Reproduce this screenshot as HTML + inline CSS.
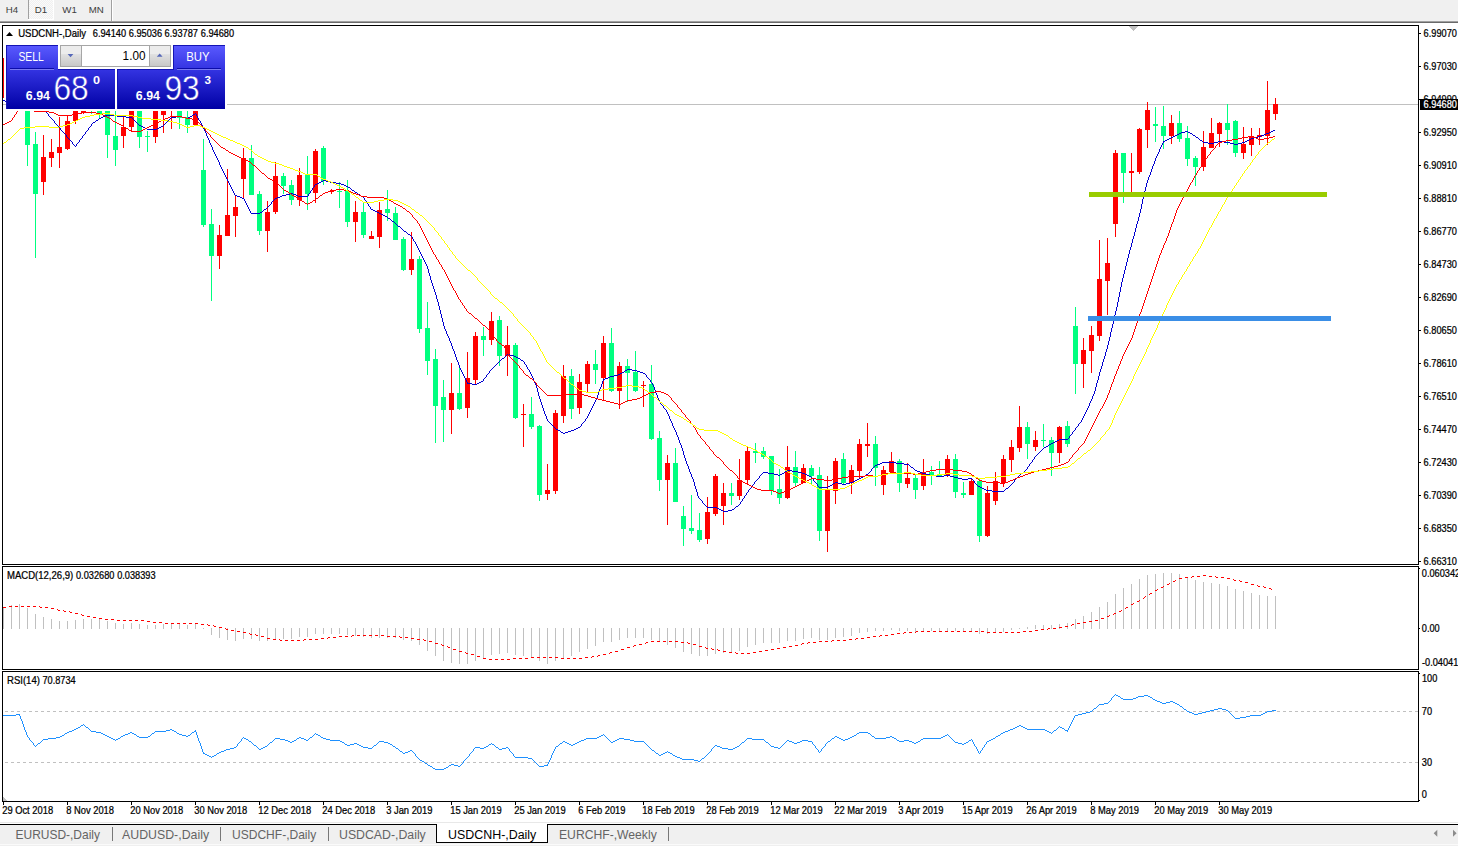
<!DOCTYPE html><html><head><meta charset="utf-8"><title>USDCNH-,Daily</title><style>
html,body{margin:0;padding:0;background:#fff;}
body{width:1458px;height:846px;overflow:hidden;position:relative;font-family:"Liberation Sans",sans-serif;}
svg{position:absolute;left:0;top:0;}
text{font-family:"Liberation Sans",sans-serif;}
.ax{font-size:10.4px;fill:#000;stroke:#000;stroke-width:0.25px;}
.tab{font-size:12.3px;fill:#646464;}
.tb{font-size:9.6px;fill:#3c3c3c;}

</style></head><body>
<svg width="1458" height="846" viewBox="0 0 1458 846" shape-rendering="crispEdges">
<defs><linearGradient id="bl" gradientUnits="userSpaceOnUse" x1="0" y1="45" x2="0" y2="109"><stop offset="0" stop-color="#5a5aff"/><stop offset="0.4" stop-color="#3232e0"/><stop offset="1" stop-color="#0000a4"/></linearGradient><linearGradient id="bl2" gradientUnits="userSpaceOnUse" x1="0" y1="-55.3" x2="0" y2="8.7"><stop offset="0" stop-color="#5a5aff"/><stop offset="0.4" stop-color="#3232e0"/><stop offset="1" stop-color="#0000a4"/></linearGradient><linearGradient id="gb" x1="0" y1="0" x2="0" y2="1"><stop offset="0" stop-color="#f2f2f2"/><stop offset="1" stop-color="#c8c8c8"/></linearGradient><pattern id="dots" width="2" height="2" patternUnits="userSpaceOnUse"><rect width="2" height="2" fill="#f0f0f0"/><rect width="1" height="1" fill="#fafafa"/><rect x="1" y="1" width="1" height="1" fill="#fafafa"/></pattern><clipPath id="cm"><rect x="3" y="26" width="1415" height="538"/></clipPath></defs>
<rect x="0" y="0" width="1458" height="21" fill="#f0f0f0"/>
<rect x="0" y="21" width="1458" height="1" fill="#a0a0a0"/><rect x="0" y="22" width="1458" height="1" fill="#696969"/>
<rect x="29" y="0" width="24" height="19" fill="url(#dots)"/><rect x="53" y="0" width="1" height="20" fill="#fff"/><rect x="28" y="19" width="26" height="1" fill="#fff"/>
<rect x="28" y="0" width="1" height="19" fill="#a0a0a0"/><rect x="111" y="0" width="1" height="21" fill="#a0a0a0"/><rect x="112" y="0" width="1" height="21" fill="#fff"/>
<text transform="translate(5.7 12.9) scale(1.01 1)" class="tb" shape-rendering="auto" xml:space="preserve">H4</text>
<text transform="translate(34.7 12.9) scale(1.01 1)" class="tb" shape-rendering="auto" xml:space="preserve">D1</text>
<text transform="translate(62.3 12.9) scale(1.01 1)" class="tb" shape-rendering="auto" xml:space="preserve">W1</text>
<text transform="translate(88.8 12.9) scale(1.01 1)" class="tb" shape-rendering="auto" xml:space="preserve">MN</text>
<rect x="2" y="25" width="1417" height="1" fill="#000"/>
<rect x="2" y="25" width="1" height="777" fill="#000"/>
<rect x="1418" y="25" width="1" height="777" fill="#000"/>
<rect x="2" y="564" width="1417" height="1" fill="#000"/>
<rect x="2" y="566" width="1417" height="1" fill="#000"/>
<rect x="2" y="565" width="1417" height="1" fill="#fff"/>
<rect x="2" y="669" width="1417" height="1" fill="#000"/>
<rect x="2" y="670" width="1417" height="1" fill="#fff"/>
<rect x="2" y="671" width="1417" height="1" fill="#000"/>
<rect x="2" y="801" width="1417" height="1" fill="#000"/>
<rect x="1419" y="33" width="2" height="1" fill="#000"/>
<text transform="translate(1423.6 37) scale(0.8857692307692308 1)" class="ax" shape-rendering="auto" xml:space="preserve">6.99070</text>
<rect x="1419" y="66" width="2" height="1" fill="#000"/>
<text transform="translate(1423.6 70) scale(0.8857692307692308 1)" class="ax" shape-rendering="auto" xml:space="preserve">6.97030</text>
<rect x="1419" y="99" width="2" height="1" fill="#000"/>
<text transform="translate(1423.6 103) scale(0.8857692307692308 1)" class="ax" shape-rendering="auto" xml:space="preserve">6.94990</text>
<rect x="1419" y="132" width="2" height="1" fill="#000"/>
<text transform="translate(1423.6 136) scale(0.8857692307692308 1)" class="ax" shape-rendering="auto" xml:space="preserve">6.92950</text>
<rect x="1419" y="165" width="2" height="1" fill="#000"/>
<text transform="translate(1423.6 169) scale(0.8857692307692308 1)" class="ax" shape-rendering="auto" xml:space="preserve">6.90910</text>
<rect x="1419" y="198" width="2" height="1" fill="#000"/>
<text transform="translate(1423.6 202) scale(0.8857692307692308 1)" class="ax" shape-rendering="auto" xml:space="preserve">6.88810</text>
<rect x="1419" y="231" width="2" height="1" fill="#000"/>
<text transform="translate(1423.6 235) scale(0.8857692307692308 1)" class="ax" shape-rendering="auto" xml:space="preserve">6.86770</text>
<rect x="1419" y="264" width="2" height="1" fill="#000"/>
<text transform="translate(1423.6 268) scale(0.8857692307692308 1)" class="ax" shape-rendering="auto" xml:space="preserve">6.84730</text>
<rect x="1419" y="297" width="2" height="1" fill="#000"/>
<text transform="translate(1423.6 301) scale(0.8857692307692308 1)" class="ax" shape-rendering="auto" xml:space="preserve">6.82690</text>
<rect x="1419" y="330" width="2" height="1" fill="#000"/>
<text transform="translate(1423.6 334) scale(0.8857692307692308 1)" class="ax" shape-rendering="auto" xml:space="preserve">6.80650</text>
<rect x="1419" y="363" width="2" height="1" fill="#000"/>
<text transform="translate(1423.6 367) scale(0.8857692307692308 1)" class="ax" shape-rendering="auto" xml:space="preserve">6.78610</text>
<rect x="1419" y="396" width="2" height="1" fill="#000"/>
<text transform="translate(1423.6 400) scale(0.8857692307692308 1)" class="ax" shape-rendering="auto" xml:space="preserve">6.76510</text>
<rect x="1419" y="429" width="2" height="1" fill="#000"/>
<text transform="translate(1423.6 433) scale(0.8857692307692308 1)" class="ax" shape-rendering="auto" xml:space="preserve">6.74470</text>
<rect x="1419" y="462" width="2" height="1" fill="#000"/>
<text transform="translate(1423.6 466) scale(0.8857692307692308 1)" class="ax" shape-rendering="auto" xml:space="preserve">6.72430</text>
<rect x="1419" y="495" width="2" height="1" fill="#000"/>
<text transform="translate(1423.6 499) scale(0.8857692307692308 1)" class="ax" shape-rendering="auto" xml:space="preserve">6.70390</text>
<rect x="1419" y="528" width="2" height="1" fill="#000"/>
<text transform="translate(1423.6 532) scale(0.8857692307692308 1)" class="ax" shape-rendering="auto" xml:space="preserve">6.68350</text>
<rect x="1419" y="561" width="2" height="1" fill="#000"/>
<text transform="translate(1423.6 565) scale(0.8857692307692308 1)" class="ax" shape-rendering="auto" xml:space="preserve">6.66310</text>
<rect x="3" y="104" width="1415" height="1" fill="#c0c0c0"/>
<rect x="1420" y="99" width="38" height="11" fill="#000"/>
<text transform="translate(1423.6 108) scale(0.8857692307692308 1)" class="ax" style="fill:#fff;stroke:#fff" shape-rendering="auto" xml:space="preserve">6.94680</text>
<rect x="1419" y="568" width="1" height="1" fill="#000"/>
<text transform="translate(1421.8 577.2) scale(0.8857692307692308 1)" class="ax" shape-rendering="auto" xml:space="preserve">0.060342</text>
<text transform="translate(1421.8 632.4) scale(0.8857692307692308 1)" class="ax" shape-rendering="auto" xml:space="preserve">0.00</text>
<text transform="translate(1422 666.4) scale(0.8857692307692308 1)" class="ax" shape-rendering="auto" xml:space="preserve">-0.04041</text>
<text transform="translate(1422 682.2) scale(0.8857692307692308 1)" class="ax" shape-rendering="auto" xml:space="preserve">100</text>
<text transform="translate(1421.8 715.3) scale(0.8857692307692308 1)" class="ax" shape-rendering="auto" xml:space="preserve">70</text>
<text transform="translate(1421.8 766.3) scale(0.8857692307692308 1)" class="ax" shape-rendering="auto" xml:space="preserve">30</text>
<text transform="translate(1421.8 798.1) scale(0.8857692307692308 1)" class="ax" shape-rendering="auto" xml:space="preserve">0</text>
<rect x="1419" y="628" width="1" height="1" fill="#000"/><rect x="1419" y="800" width="1" height="1" fill="#000"/><rect x="1419" y="673" width="1" height="1" fill="#000"/>
<path d="M3 711.5H1419M3 762.5H1419" stroke="#c0c0c0" stroke-width="1" stroke-dasharray="3 3" stroke-dashoffset="4" fill="none"/>
<rect x="3" y="802" width="1" height="3" fill="#000"/>
<text transform="translate(2.2 814) scale(0.8999038461538461 1)" class="ax" shape-rendering="auto" xml:space="preserve">29 Oct 2018</text>
<rect x="67" y="802" width="1" height="3" fill="#000"/>
<text transform="translate(66.2 814) scale(0.8999038461538461 1)" class="ax" shape-rendering="auto" xml:space="preserve">8 Nov 2018</text>
<rect x="131" y="802" width="1" height="3" fill="#000"/>
<text transform="translate(130.2 814) scale(0.8999038461538461 1)" class="ax" shape-rendering="auto" xml:space="preserve">20 Nov 2018</text>
<rect x="195" y="802" width="1" height="3" fill="#000"/>
<text transform="translate(194.2 814) scale(0.8999038461538461 1)" class="ax" shape-rendering="auto" xml:space="preserve">30 Nov 2018</text>
<rect x="259" y="802" width="1" height="3" fill="#000"/>
<text transform="translate(258.2 814) scale(0.8999038461538461 1)" class="ax" shape-rendering="auto" xml:space="preserve">12 Dec 2018</text>
<rect x="323" y="802" width="1" height="3" fill="#000"/>
<text transform="translate(322.2 814) scale(0.8999038461538461 1)" class="ax" shape-rendering="auto" xml:space="preserve">24 Dec 2018</text>
<rect x="387" y="802" width="1" height="3" fill="#000"/>
<text transform="translate(386.2 814) scale(0.8999038461538461 1)" class="ax" shape-rendering="auto" xml:space="preserve">3 Jan 2019</text>
<rect x="451" y="802" width="1" height="3" fill="#000"/>
<text transform="translate(450.2 814) scale(0.8999038461538461 1)" class="ax" shape-rendering="auto" xml:space="preserve">15 Jan 2019</text>
<rect x="515" y="802" width="1" height="3" fill="#000"/>
<text transform="translate(514.2 814) scale(0.8999038461538461 1)" class="ax" shape-rendering="auto" xml:space="preserve">25 Jan 2019</text>
<rect x="579" y="802" width="1" height="3" fill="#000"/>
<text transform="translate(578.2 814) scale(0.8999038461538461 1)" class="ax" shape-rendering="auto" xml:space="preserve">6 Feb 2019</text>
<rect x="643" y="802" width="1" height="3" fill="#000"/>
<text transform="translate(642.2 814) scale(0.8999038461538461 1)" class="ax" shape-rendering="auto" xml:space="preserve">18 Feb 2019</text>
<rect x="707" y="802" width="1" height="3" fill="#000"/>
<text transform="translate(706.2 814) scale(0.8999038461538461 1)" class="ax" shape-rendering="auto" xml:space="preserve">28 Feb 2019</text>
<rect x="771" y="802" width="1" height="3" fill="#000"/>
<text transform="translate(770.2 814) scale(0.8999038461538461 1)" class="ax" shape-rendering="auto" xml:space="preserve">12 Mar 2019</text>
<rect x="835" y="802" width="1" height="3" fill="#000"/>
<text transform="translate(834.2 814) scale(0.8999038461538461 1)" class="ax" shape-rendering="auto" xml:space="preserve">22 Mar 2019</text>
<rect x="899" y="802" width="1" height="3" fill="#000"/>
<text transform="translate(898.2 814) scale(0.8999038461538461 1)" class="ax" shape-rendering="auto" xml:space="preserve">3 Apr 2019</text>
<rect x="963" y="802" width="1" height="3" fill="#000"/>
<text transform="translate(962.2 814) scale(0.8999038461538461 1)" class="ax" shape-rendering="auto" xml:space="preserve">15 Apr 2019</text>
<rect x="1027" y="802" width="1" height="3" fill="#000"/>
<text transform="translate(1026.2 814) scale(0.8999038461538461 1)" class="ax" shape-rendering="auto" xml:space="preserve">26 Apr 2019</text>
<rect x="1091" y="802" width="1" height="3" fill="#000"/>
<text transform="translate(1090.2 814) scale(0.8999038461538461 1)" class="ax" shape-rendering="auto" xml:space="preserve">8 May 2019</text>
<rect x="1155" y="802" width="1" height="3" fill="#000"/>
<text transform="translate(1154.2 814) scale(0.8999038461538461 1)" class="ax" shape-rendering="auto" xml:space="preserve">20 May 2019</text>
<rect x="1219" y="802" width="1" height="3" fill="#000"/>
<text transform="translate(1218.2 814) scale(0.8999038461538461 1)" class="ax" shape-rendering="auto" xml:space="preserve">30 May 2019</text>
<path d="M3 797L3 801L8 801Z" fill="#c0c0c0"/>
<rect x="0" y="822" width="1458" height="1" fill="#e8e8e8"/>
<rect x="0" y="823" width="1458" height="1" fill="#fff"/>
<rect x="0" y="824" width="1458" height="1" fill="#000"/>
<rect x="0" y="825" width="1458" height="19" fill="#f0f0f0"/>
<rect x="0" y="844" width="1458" height="1" fill="#fafafa"/><rect x="0" y="845" width="1458" height="1" fill="#efefef"/>
<path d="M436.5 824V842.5H547.5V824" fill="#fff" stroke="#000" stroke-width="1"/><rect x="437" y="823" width="110" height="2" fill="#fff"/>
<text transform="translate(15.5 839) scale(0.975 1)" class="tab" shape-rendering="auto" xml:space="preserve">EURUSD-,Daily</text>
<text transform="translate(122 839) scale(1.004 1)" class="tab" shape-rendering="auto" xml:space="preserve">AUDUSD-,Daily</text>
<text transform="translate(232 839) scale(0.98 1)" class="tab" shape-rendering="auto" xml:space="preserve">USDCHF-,Daily</text>
<text transform="translate(339 839) scale(1.0 1)" class="tab" shape-rendering="auto" xml:space="preserve">USDCAD-,Daily</text>
<text transform="translate(448 839) scale(1.01 1)" class="tab" style="fill:#000" shape-rendering="auto" xml:space="preserve">USDCNH-,Daily</text>
<text transform="translate(559 839) scale(0.99 1)" class="tab" shape-rendering="auto" xml:space="preserve">EURCHF-,Weekly</text>
<rect x="112" y="827" width="1" height="14" fill="#777"/>
<rect x="220" y="827" width="1" height="14" fill="#777"/>
<rect x="328" y="827" width="1" height="14" fill="#777"/>
<rect x="668" y="827" width="1" height="14" fill="#777"/>
<path d="M1437.3 829.7L1433.7 833.2L1437.3 836.7Z M1453 829.7L1456.6 833.2L1453 836.7Z" fill="#8c8c8c" shape-rendering="auto"/>
<path d="M6 36L9.5 32L13 36Z" fill="#000" shape-rendering="auto"/>
<text transform="translate(18.2 36.6) scale(0.91875 1)" class="ax" shape-rendering="auto" xml:space="preserve">USDCNH-,Daily</text>
<text transform="translate(92.8 36.6) scale(0.8857692307692308 1)" class="ax" shape-rendering="auto" xml:space="preserve">6.94140</text>
<text transform="translate(128.8 36.6) scale(0.8857692307692308 1)" class="ax" shape-rendering="auto" xml:space="preserve">6.95036</text>
<text transform="translate(164.6 36.6) scale(0.8857692307692308 1)" class="ax" shape-rendering="auto" xml:space="preserve">6.93787</text>
<text transform="translate(200.8 36.6) scale(0.8857692307692308 1)" class="ax" shape-rendering="auto" xml:space="preserve">6.94680</text>
<text transform="translate(7 578.7) scale(0.91875 1)" class="ax" shape-rendering="auto" xml:space="preserve">MACD(12,26,9)</text>
<text transform="translate(76 578.7) scale(0.8857692307692308 1)" class="ax" shape-rendering="auto" xml:space="preserve">0.032680</text>
<text transform="translate(117.2 578.7) scale(0.8857692307692308 1)" class="ax" shape-rendering="auto" xml:space="preserve">0.038393</text>
<text transform="translate(7 683.7) scale(0.91875 1)" class="ax" shape-rendering="auto" xml:space="preserve">RSI(14)</text>
<text transform="translate(42.4 683.7) scale(0.8857692307692308 1)" class="ax" shape-rendering="auto" xml:space="preserve">70.8734</text>
<path d="M1129 26h9v1h-9zM1130 27h7v1h-7zM1131 28h5v1h-5zM1132 29h3v1h-3zM1133 30h1v1h-1z" fill="#c0c0c0"/>
<g clip-path="url(#cm)">
<rect x="3" y="58" width="1" height="40" fill="#ff0000"/>
<rect x="27" y="100" width="1" height="66" fill="#00ff7f"/>
<rect x="25" y="100" width="5" height="45" fill="#00ff7f"/>
<rect x="35" y="132" width="1" height="126" fill="#00ff7f"/>
<rect x="33" y="144" width="5" height="50" fill="#00ff7f"/>
<rect x="43" y="135" width="1" height="60" fill="#ff0000"/>
<rect x="41" y="157" width="5" height="25" fill="#ff0000"/>
<rect x="51" y="139" width="1" height="28" fill="#ff0000"/>
<rect x="49" y="152" width="5" height="6" fill="#ff0000"/>
<rect x="59" y="117" width="1" height="51" fill="#ff0000"/>
<rect x="57" y="147" width="5" height="6" fill="#ff0000"/>
<rect x="67" y="115" width="1" height="35" fill="#ff0000"/>
<rect x="65" y="121" width="5" height="28" fill="#ff0000"/>
<rect x="75" y="100" width="1" height="24" fill="#ff0000"/>
<rect x="73" y="100" width="5" height="21" fill="#ff0000"/>
<rect x="83" y="100" width="1" height="14" fill="#ff0000"/>
<rect x="81" y="100" width="5" height="13" fill="#ff0000"/>
<rect x="91" y="100" width="1" height="14" fill="#00ff7f"/>
<rect x="89" y="100" width="5" height="1" fill="#00ff7f"/>
<rect x="99" y="100" width="1" height="18" fill="#00ff7f"/>
<rect x="97" y="100" width="5" height="15" fill="#00ff7f"/>
<rect x="107" y="100" width="1" height="58" fill="#00ff7f"/>
<rect x="105" y="100" width="5" height="35" fill="#00ff7f"/>
<rect x="115" y="100" width="1" height="66" fill="#00ff7f"/>
<rect x="113" y="136" width="5" height="14" fill="#00ff7f"/>
<rect x="123" y="117" width="1" height="31" fill="#ff0000"/>
<rect x="121" y="127" width="5" height="9" fill="#ff0000"/>
<rect x="131" y="100" width="1" height="31" fill="#ff0000"/>
<rect x="129" y="100" width="5" height="27" fill="#ff0000"/>
<rect x="139" y="100" width="1" height="48" fill="#00ff7f"/>
<rect x="137" y="100" width="5" height="37" fill="#00ff7f"/>
<rect x="147" y="131" width="1" height="21" fill="#00ff7f"/>
<rect x="145" y="136" width="5" height="1" fill="#00ff7f"/>
<rect x="155" y="100" width="1" height="43" fill="#ff0000"/>
<rect x="153" y="100" width="5" height="37" fill="#ff0000"/>
<rect x="163" y="100" width="1" height="33" fill="#ff0000"/>
<rect x="161" y="100" width="5" height="15" fill="#ff0000"/>
<rect x="171" y="100" width="1" height="29" fill="#ff0000"/>
<rect x="169" y="100" width="5" height="1" fill="#ff0000"/>
<rect x="179" y="100" width="1" height="29" fill="#00ff7f"/>
<rect x="177" y="100" width="5" height="18" fill="#00ff7f"/>
<rect x="187" y="100" width="1" height="33" fill="#00ff7f"/>
<rect x="185" y="117" width="5" height="8" fill="#00ff7f"/>
<rect x="195" y="100" width="1" height="25" fill="#ff0000"/>
<rect x="193" y="100" width="5" height="25" fill="#ff0000"/>
<rect x="203" y="139" width="1" height="88" fill="#00ff7f"/>
<rect x="201" y="170" width="5" height="55" fill="#00ff7f"/>
<rect x="211" y="209" width="1" height="92" fill="#00ff7f"/>
<rect x="209" y="224" width="5" height="32" fill="#00ff7f"/>
<rect x="219" y="225" width="1" height="44" fill="#ff0000"/>
<rect x="217" y="235" width="5" height="21" fill="#ff0000"/>
<rect x="227" y="169" width="1" height="67" fill="#ff0000"/>
<rect x="225" y="215" width="5" height="21" fill="#ff0000"/>
<rect x="235" y="196" width="1" height="41" fill="#ff0000"/>
<rect x="233" y="207" width="5" height="9" fill="#ff0000"/>
<rect x="243" y="148" width="1" height="51" fill="#ff0000"/>
<rect x="241" y="158" width="5" height="21" fill="#ff0000"/>
<rect x="251" y="145" width="1" height="50" fill="#00ff7f"/>
<rect x="249" y="158" width="5" height="37" fill="#00ff7f"/>
<rect x="259" y="191" width="1" height="44" fill="#00ff7f"/>
<rect x="257" y="194" width="5" height="37" fill="#00ff7f"/>
<rect x="267" y="201" width="1" height="51" fill="#ff0000"/>
<rect x="265" y="212" width="5" height="19" fill="#ff0000"/>
<rect x="275" y="162" width="1" height="52" fill="#ff0000"/>
<rect x="273" y="176" width="5" height="36" fill="#ff0000"/>
<rect x="283" y="173" width="1" height="21" fill="#00ff7f"/>
<rect x="281" y="176" width="5" height="10" fill="#00ff7f"/>
<rect x="291" y="180" width="1" height="25" fill="#00ff7f"/>
<rect x="289" y="185" width="5" height="15" fill="#00ff7f"/>
<rect x="299" y="168" width="1" height="38" fill="#ff0000"/>
<rect x="297" y="175" width="5" height="25" fill="#ff0000"/>
<rect x="307" y="156" width="1" height="54" fill="#00ff7f"/>
<rect x="305" y="175" width="5" height="19" fill="#00ff7f"/>
<rect x="315" y="149" width="1" height="54" fill="#ff0000"/>
<rect x="313" y="151" width="5" height="42" fill="#ff0000"/>
<rect x="323" y="146" width="1" height="39" fill="#00ff7f"/>
<rect x="321" y="148" width="5" height="33" fill="#00ff7f"/>
<rect x="331" y="189" width="1" height="5" fill="#ff0000"/>
<rect x="329" y="191" width="5" height="1" fill="#ff0000"/>
<rect x="339" y="182" width="1" height="26" fill="#00ff7f"/>
<rect x="337" y="191" width="5" height="1" fill="#00ff7f"/>
<rect x="347" y="180" width="1" height="47" fill="#00ff7f"/>
<rect x="345" y="191" width="5" height="31" fill="#00ff7f"/>
<rect x="355" y="201" width="1" height="41" fill="#ff0000"/>
<rect x="353" y="212" width="5" height="10" fill="#ff0000"/>
<rect x="363" y="203" width="1" height="35" fill="#00ff7f"/>
<rect x="361" y="212" width="5" height="23" fill="#00ff7f"/>
<rect x="371" y="231" width="1" height="8" fill="#ff0000"/>
<rect x="369" y="236" width="5" height="3" fill="#ff0000"/>
<rect x="379" y="202" width="1" height="46" fill="#ff0000"/>
<rect x="377" y="210" width="5" height="27" fill="#ff0000"/>
<rect x="387" y="190" width="1" height="31" fill="#00ff7f"/>
<rect x="385" y="209" width="5" height="4" fill="#00ff7f"/>
<rect x="395" y="207" width="1" height="33" fill="#00ff7f"/>
<rect x="393" y="213" width="5" height="27" fill="#00ff7f"/>
<rect x="403" y="237" width="1" height="34" fill="#00ff7f"/>
<rect x="401" y="239" width="5" height="31" fill="#00ff7f"/>
<rect x="411" y="232" width="1" height="43" fill="#ff0000"/>
<rect x="409" y="259" width="5" height="11" fill="#ff0000"/>
<rect x="419" y="256" width="1" height="77" fill="#00ff7f"/>
<rect x="417" y="259" width="5" height="70" fill="#00ff7f"/>
<rect x="427" y="302" width="1" height="73" fill="#00ff7f"/>
<rect x="425" y="328" width="5" height="33" fill="#00ff7f"/>
<rect x="435" y="349" width="1" height="94" fill="#00ff7f"/>
<rect x="433" y="359" width="5" height="47" fill="#00ff7f"/>
<rect x="443" y="380" width="1" height="62" fill="#00ff7f"/>
<rect x="441" y="397" width="5" height="13" fill="#00ff7f"/>
<rect x="451" y="363" width="1" height="71" fill="#ff0000"/>
<rect x="449" y="393" width="5" height="17" fill="#ff0000"/>
<rect x="459" y="367" width="1" height="43" fill="#00ff7f"/>
<rect x="457" y="393" width="5" height="16" fill="#00ff7f"/>
<rect x="467" y="352" width="1" height="66" fill="#ff0000"/>
<rect x="465" y="378" width="5" height="30" fill="#ff0000"/>
<rect x="475" y="332" width="1" height="53" fill="#ff0000"/>
<rect x="473" y="336" width="5" height="44" fill="#ff0000"/>
<rect x="483" y="327" width="1" height="29" fill="#00ff7f"/>
<rect x="481" y="336" width="5" height="4" fill="#00ff7f"/>
<rect x="491" y="312" width="1" height="33" fill="#ff0000"/>
<rect x="489" y="321" width="5" height="19" fill="#ff0000"/>
<rect x="499" y="316" width="1" height="50" fill="#00ff7f"/>
<rect x="497" y="320" width="5" height="36" fill="#00ff7f"/>
<rect x="507" y="326" width="1" height="50" fill="#ff0000"/>
<rect x="505" y="345" width="5" height="11" fill="#ff0000"/>
<rect x="515" y="343" width="1" height="76" fill="#00ff7f"/>
<rect x="513" y="345" width="5" height="73" fill="#00ff7f"/>
<rect x="523" y="404" width="1" height="43" fill="#ff0000"/>
<rect x="521" y="414" width="5" height="1" fill="#ff0000"/>
<rect x="531" y="397" width="1" height="32" fill="#00ff7f"/>
<rect x="529" y="414" width="5" height="13" fill="#00ff7f"/>
<rect x="539" y="425" width="1" height="76" fill="#00ff7f"/>
<rect x="537" y="426" width="5" height="69" fill="#00ff7f"/>
<rect x="547" y="464" width="1" height="36" fill="#ff0000"/>
<rect x="545" y="490" width="5" height="4" fill="#ff0000"/>
<rect x="555" y="410" width="1" height="84" fill="#ff0000"/>
<rect x="553" y="413" width="5" height="78" fill="#ff0000"/>
<rect x="563" y="365" width="1" height="58" fill="#ff0000"/>
<rect x="561" y="376" width="5" height="40" fill="#ff0000"/>
<rect x="571" y="369" width="1" height="50" fill="#00ff7f"/>
<rect x="569" y="376" width="5" height="33" fill="#00ff7f"/>
<rect x="579" y="374" width="1" height="40" fill="#ff0000"/>
<rect x="577" y="382" width="5" height="26" fill="#ff0000"/>
<rect x="587" y="361" width="1" height="32" fill="#ff0000"/>
<rect x="585" y="364" width="5" height="20" fill="#ff0000"/>
<rect x="595" y="350" width="1" height="34" fill="#00ff7f"/>
<rect x="593" y="364" width="5" height="6" fill="#00ff7f"/>
<rect x="603" y="336" width="1" height="64" fill="#ff0000"/>
<rect x="601" y="343" width="5" height="35" fill="#ff0000"/>
<rect x="611" y="328" width="1" height="64" fill="#00ff7f"/>
<rect x="609" y="343" width="5" height="48" fill="#00ff7f"/>
<rect x="619" y="362" width="1" height="47" fill="#ff0000"/>
<rect x="617" y="366" width="5" height="25" fill="#ff0000"/>
<rect x="627" y="359" width="1" height="43" fill="#00ff7f"/>
<rect x="625" y="366" width="5" height="7" fill="#00ff7f"/>
<rect x="635" y="351" width="1" height="41" fill="#00ff7f"/>
<rect x="633" y="372" width="5" height="19" fill="#00ff7f"/>
<rect x="643" y="381" width="1" height="26" fill="#ff0000"/>
<rect x="641" y="385" width="5" height="1" fill="#ff0000"/>
<rect x="651" y="365" width="1" height="75" fill="#00ff7f"/>
<rect x="649" y="384" width="5" height="55" fill="#00ff7f"/>
<rect x="659" y="431" width="1" height="60" fill="#00ff7f"/>
<rect x="657" y="438" width="5" height="42" fill="#00ff7f"/>
<rect x="667" y="455" width="1" height="70" fill="#ff0000"/>
<rect x="665" y="463" width="5" height="17" fill="#ff0000"/>
<rect x="675" y="448" width="1" height="54" fill="#00ff7f"/>
<rect x="673" y="463" width="5" height="39" fill="#00ff7f"/>
<rect x="683" y="506" width="1" height="40" fill="#00ff7f"/>
<rect x="681" y="516" width="5" height="13" fill="#00ff7f"/>
<rect x="691" y="495" width="1" height="39" fill="#00ff7f"/>
<rect x="689" y="528" width="5" height="3" fill="#00ff7f"/>
<rect x="699" y="513" width="1" height="29" fill="#00ff7f"/>
<rect x="697" y="530" width="5" height="10" fill="#00ff7f"/>
<rect x="707" y="497" width="1" height="47" fill="#ff0000"/>
<rect x="705" y="512" width="5" height="27" fill="#ff0000"/>
<rect x="715" y="474" width="1" height="42" fill="#ff0000"/>
<rect x="713" y="476" width="5" height="38" fill="#ff0000"/>
<rect x="723" y="483" width="1" height="42" fill="#ff0000"/>
<rect x="721" y="493" width="5" height="13" fill="#ff0000"/>
<rect x="731" y="483" width="1" height="22" fill="#00ff7f"/>
<rect x="729" y="493" width="5" height="3" fill="#00ff7f"/>
<rect x="739" y="459" width="1" height="41" fill="#ff0000"/>
<rect x="737" y="480" width="5" height="16" fill="#ff0000"/>
<rect x="747" y="446" width="1" height="39" fill="#ff0000"/>
<rect x="745" y="451" width="5" height="29" fill="#ff0000"/>
<rect x="755" y="443" width="1" height="20" fill="#00ff7f"/>
<rect x="753" y="451" width="5" height="2" fill="#00ff7f"/>
<rect x="763" y="447" width="1" height="12" fill="#00ff7f"/>
<rect x="761" y="451" width="5" height="6" fill="#00ff7f"/>
<rect x="771" y="456" width="1" height="39" fill="#00ff7f"/>
<rect x="769" y="456" width="5" height="35" fill="#00ff7f"/>
<rect x="779" y="469" width="1" height="35" fill="#00ff7f"/>
<rect x="777" y="489" width="5" height="9" fill="#00ff7f"/>
<rect x="787" y="446" width="1" height="53" fill="#ff0000"/>
<rect x="785" y="467" width="5" height="31" fill="#ff0000"/>
<rect x="795" y="451" width="1" height="36" fill="#00ff7f"/>
<rect x="793" y="467" width="5" height="16" fill="#00ff7f"/>
<rect x="803" y="464" width="1" height="19" fill="#ff0000"/>
<rect x="801" y="468" width="5" height="15" fill="#ff0000"/>
<rect x="811" y="465" width="1" height="20" fill="#00ff7f"/>
<rect x="809" y="468" width="5" height="8" fill="#00ff7f"/>
<rect x="819" y="467" width="1" height="74" fill="#00ff7f"/>
<rect x="817" y="475" width="5" height="56" fill="#00ff7f"/>
<rect x="827" y="476" width="1" height="76" fill="#ff0000"/>
<rect x="825" y="490" width="5" height="41" fill="#ff0000"/>
<rect x="835" y="458" width="1" height="46" fill="#ff0000"/>
<rect x="833" y="461" width="5" height="30" fill="#ff0000"/>
<rect x="843" y="453" width="1" height="32" fill="#00ff7f"/>
<rect x="841" y="459" width="5" height="24" fill="#00ff7f"/>
<rect x="851" y="465" width="1" height="29" fill="#ff0000"/>
<rect x="849" y="470" width="5" height="13" fill="#ff0000"/>
<rect x="859" y="439" width="1" height="39" fill="#ff0000"/>
<rect x="857" y="444" width="5" height="27" fill="#ff0000"/>
<rect x="867" y="423" width="1" height="34" fill="#ff0000"/>
<rect x="865" y="444" width="5" height="2" fill="#ff0000"/>
<rect x="875" y="436" width="1" height="50" fill="#00ff7f"/>
<rect x="873" y="444" width="5" height="24" fill="#00ff7f"/>
<rect x="883" y="466" width="1" height="29" fill="#ff0000"/>
<rect x="881" y="470" width="5" height="15" fill="#ff0000"/>
<rect x="891" y="452" width="1" height="21" fill="#ff0000"/>
<rect x="889" y="461" width="5" height="11" fill="#ff0000"/>
<rect x="899" y="459" width="1" height="33" fill="#00ff7f"/>
<rect x="897" y="461" width="5" height="22" fill="#00ff7f"/>
<rect x="907" y="463" width="1" height="25" fill="#ff0000"/>
<rect x="905" y="478" width="5" height="6" fill="#ff0000"/>
<rect x="915" y="474" width="1" height="25" fill="#00ff7f"/>
<rect x="913" y="478" width="5" height="12" fill="#00ff7f"/>
<rect x="923" y="459" width="1" height="31" fill="#ff0000"/>
<rect x="921" y="473" width="5" height="13" fill="#ff0000"/>
<rect x="931" y="466" width="1" height="19" fill="#00ff7f"/>
<rect x="929" y="472" width="5" height="4" fill="#00ff7f"/>
<rect x="939" y="461" width="1" height="15" fill="#00ff7f"/>
<rect x="937" y="474" width="5" height="2" fill="#00ff7f"/>
<rect x="947" y="455" width="1" height="22" fill="#ff0000"/>
<rect x="945" y="459" width="5" height="16" fill="#ff0000"/>
<rect x="955" y="454" width="1" height="44" fill="#00ff7f"/>
<rect x="953" y="459" width="5" height="33" fill="#00ff7f"/>
<rect x="963" y="482" width="1" height="16" fill="#00ff7f"/>
<rect x="961" y="493" width="5" height="2" fill="#00ff7f"/>
<rect x="971" y="479" width="1" height="16" fill="#ff0000"/>
<rect x="969" y="481" width="5" height="14" fill="#ff0000"/>
<rect x="979" y="479" width="1" height="63" fill="#00ff7f"/>
<rect x="977" y="481" width="5" height="55" fill="#00ff7f"/>
<rect x="987" y="486" width="1" height="51" fill="#ff0000"/>
<rect x="985" y="493" width="5" height="43" fill="#ff0000"/>
<rect x="995" y="472" width="1" height="33" fill="#ff0000"/>
<rect x="993" y="481" width="5" height="20" fill="#ff0000"/>
<rect x="1003" y="455" width="1" height="32" fill="#ff0000"/>
<rect x="1001" y="459" width="5" height="24" fill="#ff0000"/>
<rect x="1011" y="440" width="1" height="32" fill="#ff0000"/>
<rect x="1009" y="447" width="5" height="13" fill="#ff0000"/>
<rect x="1019" y="406" width="1" height="46" fill="#ff0000"/>
<rect x="1017" y="427" width="5" height="21" fill="#ff0000"/>
<rect x="1027" y="422" width="1" height="37" fill="#00ff7f"/>
<rect x="1025" y="427" width="5" height="17" fill="#00ff7f"/>
<rect x="1035" y="431" width="1" height="20" fill="#ff0000"/>
<rect x="1033" y="440" width="5" height="7" fill="#ff0000"/>
<rect x="1043" y="424" width="1" height="23" fill="#00ff7f"/>
<rect x="1041" y="440" width="5" height="1" fill="#00ff7f"/>
<rect x="1051" y="437" width="1" height="39" fill="#00ff7f"/>
<rect x="1049" y="440" width="5" height="13" fill="#00ff7f"/>
<rect x="1059" y="426" width="1" height="37" fill="#ff0000"/>
<rect x="1057" y="427" width="5" height="26" fill="#ff0000"/>
<rect x="1067" y="421" width="1" height="26" fill="#00ff7f"/>
<rect x="1065" y="426" width="5" height="18" fill="#00ff7f"/>
<rect x="1075" y="307" width="1" height="87" fill="#00ff7f"/>
<rect x="1073" y="326" width="5" height="38" fill="#00ff7f"/>
<rect x="1083" y="338" width="1" height="50" fill="#ff0000"/>
<rect x="1081" y="350" width="5" height="14" fill="#ff0000"/>
<rect x="1091" y="326" width="1" height="47" fill="#ff0000"/>
<rect x="1089" y="335" width="5" height="16" fill="#ff0000"/>
<rect x="1099" y="240" width="1" height="101" fill="#ff0000"/>
<rect x="1097" y="279" width="5" height="57" fill="#ff0000"/>
<rect x="1107" y="238" width="1" height="77" fill="#ff0000"/>
<rect x="1105" y="263" width="5" height="18" fill="#ff0000"/>
<rect x="1115" y="150" width="1" height="87" fill="#ff0000"/>
<rect x="1113" y="153" width="5" height="71" fill="#ff0000"/>
<rect x="1123" y="153" width="1" height="50" fill="#00ff7f"/>
<rect x="1121" y="153" width="5" height="20" fill="#00ff7f"/>
<rect x="1131" y="153" width="1" height="41" fill="#ff0000"/>
<rect x="1129" y="171" width="5" height="2" fill="#ff0000"/>
<rect x="1139" y="128" width="1" height="46" fill="#ff0000"/>
<rect x="1137" y="129" width="5" height="43" fill="#ff0000"/>
<rect x="1147" y="102" width="1" height="46" fill="#ff0000"/>
<rect x="1145" y="110" width="5" height="20" fill="#ff0000"/>
<rect x="1155" y="107" width="1" height="35" fill="#00ff7f"/>
<rect x="1153" y="124" width="5" height="2" fill="#00ff7f"/>
<rect x="1163" y="106" width="1" height="43" fill="#00ff7f"/>
<rect x="1161" y="126" width="5" height="10" fill="#00ff7f"/>
<rect x="1171" y="115" width="1" height="29" fill="#ff0000"/>
<rect x="1169" y="123" width="5" height="13" fill="#ff0000"/>
<rect x="1179" y="111" width="1" height="31" fill="#00ff7f"/>
<rect x="1177" y="123" width="5" height="16" fill="#00ff7f"/>
<rect x="1187" y="126" width="1" height="40" fill="#00ff7f"/>
<rect x="1185" y="138" width="5" height="21" fill="#00ff7f"/>
<rect x="1195" y="156" width="1" height="30" fill="#00ff7f"/>
<rect x="1193" y="158" width="5" height="9" fill="#00ff7f"/>
<rect x="1203" y="131" width="1" height="40" fill="#ff0000"/>
<rect x="1201" y="147" width="5" height="20" fill="#ff0000"/>
<rect x="1211" y="118" width="1" height="30" fill="#ff0000"/>
<rect x="1209" y="133" width="5" height="15" fill="#ff0000"/>
<rect x="1219" y="122" width="1" height="25" fill="#ff0000"/>
<rect x="1217" y="123" width="5" height="11" fill="#ff0000"/>
<rect x="1227" y="104" width="1" height="41" fill="#00ff7f"/>
<rect x="1225" y="123" width="5" height="7" fill="#00ff7f"/>
<rect x="1235" y="120" width="1" height="37" fill="#00ff7f"/>
<rect x="1233" y="121" width="5" height="32" fill="#00ff7f"/>
<rect x="1243" y="127" width="1" height="32" fill="#ff0000"/>
<rect x="1241" y="144" width="5" height="9" fill="#ff0000"/>
<rect x="1251" y="128" width="1" height="28" fill="#ff0000"/>
<rect x="1249" y="136" width="5" height="9" fill="#ff0000"/>
<rect x="1259" y="128" width="1" height="17" fill="#ff0000"/>
<rect x="1257" y="135" width="5" height="2" fill="#ff0000"/>
<rect x="1267" y="81" width="1" height="64" fill="#ff0000"/>
<rect x="1265" y="110" width="5" height="26" fill="#ff0000"/>
<rect x="1275" y="98" width="1" height="22" fill="#ff0000"/>
<rect x="1273" y="104" width="5" height="10" fill="#ff0000"/>
<path d="M692 477h1v2h-1zM759 476h1v2h-1zM811 477h1v1h-1zM861 477h2v1h-2zM954 477h4v1h-4zM1017 477h1v1h-1zM64 133h1v1h-1zM85 132h1v2h-1zM206 133h1v3h-1zM1179 133h2v1h-2zM1190 133h2v1h-2zM1266 133h3v1h-3zM40 110h4v1h-4zM71 141h1v1h-1zM79 140h1v2h-1zM209 140h1v3h-1zM1163 141h2v1h-2zM1202 141h1v1h-1zM1218 141h6v1h-6zM1245 141h2v1h-2zM72 142h1v2h-1zM78 142h1v1h-1zM1163 142h1v1h-1zM1203 142h5v1h-5zM1214 142h4v1h-4zM1224 142h6v1h-6zM1242 142h3v1h-3zM229 183h1v2h-1zM317 183h2v1h-2zM336 183h5v1h-5zM1146 183h1v4h-1zM443 322h1v4h-1zM1112 324h1v4h-1zM65 134h1v1h-1zM84 134h1v1h-1zM1177 134h2v1h-2zM1192 134h1v1h-1zM1264 134h2v1h-2zM546 416h1v3h-1zM586 418h1v1h-1zM669 416h1v3h-1zM1082 418h1v2h-1zM538 392h1v4h-1zM598 392h1v3h-1zM655 390h1v3h-1zM1094 391h1v3h-1zM246 203h1v2h-1zM271 202h1v2h-1zM367 203h1v1h-1zM1142 199h1v5h-1zM690 472h1v2h-1zM762 473h1v1h-1zM768 473h6v1h-6zM782 473h2v1h-2zM802 473h3v1h-3zM868 473h1v1h-1zM922 473h4v1h-4zM1021 473h2v1h-2zM428 269h1v4h-1zM1124 270h1v4h-1zM237 196h3v1h-3zM280 196h2v1h-2zM298 196h10v1h-10zM361 196h2v1h-2zM1143 195h1v4h-1zM63 132h1v1h-1zM205 131h1v2h-1zM1181 132h4v1h-4zM1188 132h2v1h-2zM1269 132h2v1h-2zM17 104h4v1h-4zM1113 319h1v5h-1zM543 408h1v3h-1zM590 410h1v2h-1zM666 410h1v2h-1zM1086 410h1v2h-1zM597 395h1v3h-1zM657 395h1v3h-1zM1093 394h1v2h-1zM61 130h1v1h-1zM87 130h1v1h-1zM204 129h1v2h-1zM1273 130h2v1h-2zM689 469h1v3h-1zM785 471h2v1h-2zM792 471h6v1h-6zM870 471h1v1h-1zM917 471h3v1h-3zM1024 471h1v1h-1zM552 425h1v1h-1zM581 424h1v2h-1zM672 423h1v3h-1zM1078 424h1v2h-1zM679 440h1v3h-1zM1055 441h2v1h-2zM57 125h1v1h-1zM91 124h1v2h-1zM139 125h2v1h-2zM163 125h1v1h-1zM202 125h1v2h-1zM763 472h5v1h-5zM784 472h1v1h-1zM798 472h4v1h-4zM869 472h1v1h-1zM920 472h2v1h-2zM1023 472h1v1h-1zM456 357h1v3h-1zM504 357h1v1h-1zM516 357h2v1h-2zM1104 356h1v3h-1zM694 482h1v4h-1zM754 482h1v2h-1zM815 482h1v1h-1zM835 482h3v1h-3zM850 482h3v1h-3zM974 481h1v2h-1zM1013 482h1v1h-1zM753 484h1v1h-1zM817 484h1v2h-1zM832 484h1v1h-1zM842 484h4v1h-4zM976 484h1v1h-1zM1011 484h1v1h-1zM446 331h1v3h-1zM1110 332h1v5h-1zM439 306h1v4h-1zM1116 307h1v4h-1zM556 429h2v1h-2zM574 429h2v1h-2zM674 428h1v2h-1zM1075 428h1v2h-1zM449 338h1v3h-1zM1109 337h1v4h-1zM680 443h1v2h-1zM1051 443h2v1h-2zM232 189h1v2h-1zM311 190h1v1h-1zM352 190h2v1h-2zM1145 187h1v4h-1zM395 223h1v1h-1zM1137 221h1v3h-1zM467 383h5v1h-5zM477 383h2v1h-2zM535 383h1v2h-1zM602 381h1v3h-1zM652 383h1v2h-1zM1096 383h1v4h-1zM452 346h1v3h-1zM1107 345h1v4h-1zM394 222h1v1h-1zM396 224h1v1h-1zM1136 224h1v4h-1zM407 233h1v1h-1zM1134 232h1v4h-1zM455 354h1v3h-1zM506 355h1v1h-1zM510 355h4v1h-4zM1105 352h1v4h-1zM453 349h1v2h-1zM1106 349h1v3h-1zM245 201h1v2h-1zM272 201h1v1h-1zM366 201h1v2h-1zM49 116h1v1h-1zM103 116h2v1h-2zM117 116h9v1h-9zM176 116h6v1h-6zM190 116h2v1h-2zM197 116h1v2h-1zM418 248h1v2h-1zM1130 247h1v3h-1zM247 205h1v2h-1zM268 206h1v1h-1zM369 206h1v1h-1zM1141 204h1v5h-1zM721 510h2v1h-2zM728 510h4v1h-4zM553 426h1v1h-1zM580 426h1v1h-1zM673 426h1v2h-1zM1077 426h1v1h-1zM436 295h1v4h-1zM1119 292h1v5h-1zM459 365h1v3h-1zM495 365h1v1h-1zM526 365h1v2h-1zM1102 362h1v4h-1zM248 207h1v2h-1zM267 207h1v1h-1zM370 207h1v2h-1zM698 496h1v2h-1zM744 496h1v2h-1zM501 359h1v1h-1zM520 359h1v1h-1zM1103 359h1v3h-1zM51 118h1v1h-1zM99 118h2v1h-2zM132 118h1v1h-1zM170 118h1v1h-1zM186 118h2v1h-2zM198 118h1v2h-1zM75 146h1v1h-1zM211 145h1v2h-1zM1161 145h1v2h-1zM458 362h1v3h-1zM497 363h1v1h-1zM524 362h1v2h-1zM224 173h1v2h-1zM1150 172h1v3h-1zM696 489h1v3h-1zM748 490h1v2h-1zM992 491h12v1h-12zM460 368h1v2h-1zM491 369h1v1h-1zM528 369h1v1h-1zM627 369h5v1h-5zM1100 369h1v3h-1zM1125 266h1v4h-1zM415 242h1v2h-1zM1132 239h1v4h-1zM466 380h1v2h-1zM481 381h2v1h-2zM534 381h1v2h-1zM650 380h1v2h-1zM1097 380h1v3h-1zM707 507h10v1h-10zM735 507h1v1h-1zM816 483h1v1h-1zM833 483h2v1h-2zM838 483h4v1h-4zM846 483h4v1h-4zM975 483h1v1h-1zM1012 483h1v1h-1zM215 154h1v2h-1zM1157 154h1v2h-1zM688 466h1v3h-1zM873 467h1v1h-1zM911 467h2v1h-2zM1027 467h1v2h-1zM467 382h1v1h-1zM479 382h2v1h-2zM651 382h1v1h-1zM9 102h4v1h-4zM872 468h1v1h-1zM913 468h1v1h-1zM687 464h1v2h-1zM877 464h3v1h-3zM904 464h5v1h-5zM1029 464h1v2h-1zM706 506h1v1h-1zM736 506h2v1h-2zM234 193h1v2h-1zM290 193h3v1h-3zM309 193h1v1h-1zM357 193h1v1h-1zM1144 191h1v4h-1zM60 128h1v2h-1zM88 128h1v2h-1zM147 129h10v1h-10zM691 474h1v3h-1zM809 476h2v1h-2zM863 476h2v1h-2zM936 476h8v1h-8zM950 476h4v1h-4zM1018 476h1v1h-1zM695 486h1v3h-1zM750 488h1v1h-1zM982 488h2v1h-2zM1006 488h2v1h-2zM563 433h2v1h-2zM676 432h1v3h-1zM1072 432h1v2h-1zM233 191h1v2h-1zM310 191h1v2h-1zM355 192h2v1h-2zM397 225h1v1h-1zM391 220h1v1h-1zM1138 217h1v4h-1zM50 117h1v1h-1zM101 117h2v1h-2zM126 117h6v1h-6zM171 117h5v1h-5zM182 117h4v1h-4zM188 117h2v1h-2zM402 229h1v1h-1zM1135 228h1v4h-1zM392 221h2v1h-2zM73 144h1v1h-1zM76 144h1v2h-1zM210 143h1v2h-1zM1162 143h1v2h-1zM1234 144h4v1h-4zM424 260h1v2h-1zM1127 258h1v4h-1zM540 399h1v3h-1zM595 400h1v2h-1zM659 400h1v2h-1zM1091 399h1v2h-1zM66 135h1v2h-1zM82 136h1v2h-1zM207 136h1v2h-1zM1173 136h2v1h-2zM1195 136h1v1h-1zM1258 136h3v1h-3zM751 486h1v2h-1zM819 487h9v1h-9zM980 487h2v1h-2zM1008 487h1v1h-1zM36 109h4v1h-4zM74 145h1v1h-1zM693 479h1v3h-1zM757 479h1v1h-1zM813 479h1v2h-1zM857 479h2v1h-2zM962 479h6v1h-6zM972 479h1v1h-1zM1015 479h1v1h-1zM67 137h1v1h-1zM1171 137h2v1h-2zM1196 137h2v1h-2zM1254 137h4v1h-4zM62 131h1v1h-1zM86 131h1v1h-1zM1185 131h3v1h-3zM1271 131h2v1h-2zM1118 297h1v5h-1zM681 445h1v3h-1zM1048 445h1v1h-1zM752 485h1v1h-1zM830 485h2v1h-2zM977 485h1v1h-1zM1010 485h1v1h-1zM683 451h1v4h-1zM1038 453h1v1h-1zM228 181h1v2h-1zM319 182h2v1h-2zM330 182h6v1h-6zM1147 180h1v3h-1zM874 466h1v1h-1zM910 466h1v1h-1zM1028 466h1v1h-1zM218 160h1v2h-1zM1154 161h1v3h-1zM544 411h1v3h-1zM685 458h1v3h-1zM1033 459h1v1h-1zM48 114h1v2h-1zM105 115h12v1h-12zM192 115h1v1h-1zM196 114h1v2h-1zM13 103h4v1h-4zM216 156h1v2h-1zM1156 156h1v2h-1zM83 135h1v1h-1zM1175 135h2v1h-2zM1193 135h2v1h-2zM1261 135h3v1h-3zM431 280h1v3h-1zM1122 278h1v4h-1zM1121 282h1v5h-1zM463 374h1v2h-1zM487 374h1v1h-1zM531 374h1v2h-1zM618 374h2v1h-2zM645 374h1v1h-1zM1099 372h1v4h-1zM760 475h1v1h-1zM778 475h2v1h-2zM807 475h2v1h-2zM865 475h1v1h-1zM930 475h6v1h-6zM944 475h6v1h-6zM1019 475h1v1h-1zM385 216h2v1h-2zM1139 213h1v4h-1zM235 195h2v1h-2zM282 195h4v1h-4zM296 195h2v1h-2zM308 194h1v2h-1zM360 195h1v1h-1zM547 419h1v2h-1zM585 419h1v2h-1zM670 419h1v2h-1zM1081 420h1v2h-1zM441 314h1v4h-1zM1114 315h1v4h-1zM270 204h1v1h-1zM368 204h1v2h-1zM387 217h1v1h-1zM251 213h9v1h-9zM379 213h2v1h-2zM398 226h2v1h-2zM249 209h1v2h-1zM264 209h2v1h-2zM371 209h2v1h-2zM1140 209h1v4h-1zM871 469h1v2h-1zM914 469h1v1h-1zM1026 469h1v1h-1zM454 351h1v3h-1zM472 384h5v1h-5zM601 384h1v3h-1zM498 362h1v1h-1zM541 402h1v3h-1zM594 402h1v2h-1zM660 402h1v2h-1zM1090 401h1v2h-1zM461 370h1v2h-1zM490 370h1v1h-1zM529 370h1v2h-1zM625 370h2v1h-2zM632 370h5v1h-5zM427 266h1v3h-1zM465 378h1v2h-1zM484 378h1v1h-1zM533 378h1v3h-1zM605 378h3v1h-3zM648 378h1v1h-1zM1098 376h1v4h-1zM560 431h1v1h-1zM568 431h3v1h-3zM675 430h1v2h-1zM1073 431h1v1h-1zM492 368h1v1h-1zM527 367h1v2h-1zM1101 366h1v3h-1zM686 461h1v3h-1zM882 462h14v1h-14zM1031 462h1v1h-1zM561 432h2v1h-2zM565 432h3v1h-3zM383 215h2v1h-2zM494 366h1v1h-1zM390 219h1v1h-1zM419 250h1v2h-1zM1129 250h1v4h-1zM758 478h1v1h-1zM812 478h1v1h-1zM859 478h2v1h-2zM958 478h4v1h-4zM968 478h4v1h-4zM1016 478h1v1h-1zM217 158h1v2h-1zM1155 158h1v3h-1zM242 198h2v1h-2zM275 198h2v1h-2zM364 198h1v2h-1zM286 194h4v1h-4zM293 194h3v1h-3zM358 194h2v1h-2zM505 356h1v1h-1zM514 356h2v1h-2zM880 463h2v1h-2zM896 463h8v1h-8zM1030 463h1v1h-1zM231 187h1v2h-1zM312 188h1v2h-1zM350 188h1v1h-1zM462 372h1v2h-1zM489 371h1v2h-1zM530 372h1v2h-1zM622 372h2v1h-2zM640 372h3v1h-3zM464 376h1v2h-1zM485 377h1v1h-1zM532 376h1v2h-1zM608 377h2v1h-2zM647 377h1v1h-1zM537 388h1v4h-1zM600 387h1v2h-1zM654 387h1v3h-1zM1095 387h1v4h-1zM68 138h1v1h-1zM81 138h1v1h-1zM208 138h1v2h-1zM1169 138h2v1h-2zM1198 138h1v1h-1zM1251 138h3v1h-3zM53 120h1v1h-1zM96 120h2v1h-2zM134 120h1v1h-1zM168 120h1v1h-1zM199 120h1v1h-1zM55 123h1v1h-1zM92 123h1v1h-1zM137 123h1v1h-1zM165 123h1v1h-1zM201 123h1v2h-1zM457 360h1v2h-1zM499 361h1v1h-1zM523 361h1v1h-1zM77 143h1v1h-1zM1208 143h6v1h-6zM1230 143h4v1h-4zM1238 143h4v1h-4zM69 139h1v1h-1zM80 139h1v1h-1zM1167 139h2v1h-2zM1199 139h1v1h-1zM1249 139h2v1h-2zM408 234h2v1h-2zM440 310h1v4h-1zM1115 311h1v4h-1zM986 490h6v1h-6zM1004 490h1v1h-1zM678 437h1v3h-1zM1059 439h9v1h-9zM587 416h1v2h-1zM1083 416h1v2h-1zM591 408h1v2h-1zM665 409h1v1h-1zM1087 408h1v2h-1zM589 412h1v2h-1zM667 412h1v2h-1zM1085 412h1v2h-1zM536 385h1v3h-1zM653 385h1v2h-1zM230 185h1v2h-1zM314 185h1v2h-1zM344 185h2v1h-2zM56 124h1v1h-1zM138 124h1v1h-1zM164 124h1v1h-1zM227 179h1v2h-1zM323 180h3v1h-3zM761 474h1v1h-1zM774 474h4v1h-4zM780 474h2v1h-2zM805 474h2v1h-2zM866 474h2v1h-2zM926 474h4v1h-4zM1020 474h1v1h-1zM558 430h2v1h-2zM571 430h3v1h-3zM1074 430h1v1h-1zM550 423h1v1h-1zM582 423h1v1h-1zM1079 423h1v1h-1zM420 252h1v2h-1zM70 140h1v1h-1zM1165 140h2v1h-2zM1200 140h2v1h-2zM1247 140h2v1h-2zM434 289h1v3h-1zM1120 287h1v5h-1zM697 492h1v4h-1zM746 493h1v2h-1zM354 191h1v1h-1zM1071 434h1v1h-1zM32 108h4v1h-4zM425 262h1v2h-1zM1126 262h1v4h-1zM444 326h1v3h-1zM414 241h1v1h-1zM682 448h1v3h-1zM1042 449h1v1h-1zM701 500h1v1h-1zM742 499h1v2h-1zM429 273h1v3h-1zM1032 460h1v2h-1zM1089 403h1v3h-1zM1053 442h2v1h-2zM539 396h1v3h-1zM1092 396h1v3h-1zM193 114h2v1h-2zM244 199h1v2h-1zM273 200h1v1h-1zM365 200h1v1h-1zM548 421h1v1h-1zM584 421h1v1h-1zM671 421h1v2h-1zM250 211h1v2h-1zM260 212h2v1h-2zM377 212h2v1h-2zM421 254h1v2h-1zM1128 254h1v4h-1zM493 367h1v1h-1zM225 175h1v2h-1zM1149 175h1v2h-1zM445 329h1v2h-1zM1111 328h1v4h-1zM21 105h4v1h-4zM756 480h1v1h-1zM855 480h2v1h-2zM973 480h1v1h-1zM1014 480h1v2h-1zM226 177h1v2h-1zM1148 177h1v3h-1zM240 197h2v1h-2zM277 197h3v1h-3zM363 197h1v1h-1zM400 227h1v1h-1zM723 511h5v1h-5zM410 235h1v1h-1zM677 435h1v2h-1zM1069 436h1v2h-1zM404 231h2v1h-2zM717 508h2v1h-2zM734 508h1v1h-1zM1037 454h1v1h-1zM437 299h1v3h-1zM1044 447h2v1h-2zM787 470h5v1h-5zM915 470h2v1h-2zM1025 470h1v1h-1zM381 214h2v1h-2zM545 414h1v2h-1zM588 414h1v2h-1zM668 414h1v2h-1zM1084 414h1v2h-1zM542 405h1v3h-1zM592 406h1v2h-1zM663 406h1v2h-1zM1088 406h1v2h-1zM5 101h4v1h-4zM448 336h1v2h-1zM220 165h1v2h-1zM1152 166h1v3h-1zM507 354h3v1h-3zM496 364h1v1h-1zM525 364h1v1h-1zM54 121h1v2h-1zM93 122h2v1h-2zM136 122h1v1h-1zM166 122h1v1h-1zM200 121h1v2h-1zM321 181h2v1h-2zM326 181h4v1h-4zM488 373h1v1h-1zM620 373h2v1h-2zM643 373h2v1h-2zM875 465h2v1h-2zM909 465h1v1h-1zM818 486h1v1h-1zM828 486h2v1h-2zM978 486h2v1h-2zM1009 486h1v1h-1zM58 126h1v1h-1zM90 126h1v1h-1zM141 126h2v1h-2zM161 126h2v1h-2zM315 184h2v1h-2zM341 184h3v1h-3zM755 481h1v1h-1zM814 481h1v1h-1zM853 481h2v1h-2zM433 286h1v3h-1zM412 237h1v2h-1zM1133 236h1v3h-1zM95 121h1v1h-1zM135 121h1v1h-1zM167 121h1v1h-1zM747 492h1v1h-1zM213 150h1v2h-1zM1159 149h1v3h-1zM1043 448h1v1h-1zM700 499h1v1h-1zM212 147h1v3h-1zM451 343h1v3h-1zM486 375h1v2h-1zM610 376h4v1h-4zM646 375h1v2h-1zM52 119h1v1h-1zM98 119h1v1h-1zM133 119h1v1h-1zM169 119h1v1h-1zM346 186h2v1h-2zM46 112h1v1h-1zM266 208h1v1h-1zM500 360h1v1h-1zM521 360h2v1h-2zM702 501h1v2h-1zM741 501h1v1h-1zM684 455h1v3h-1zM1036 455h1v1h-1zM749 489h1v1h-1zM984 489h2v1h-2zM1005 489h1v1h-1zM3 100h2v1h-2zM483 379h1v2h-1zM603 379h2v1h-2zM649 379h1v1h-1zM1160 147h1v2h-1zM664 408h1v1h-1zM219 162h1v3h-1zM593 404h1v2h-1zM662 405h1v1h-1zM442 318h1v4h-1zM145 128h2v1h-2zM157 128h2v1h-2zM203 127h1v2h-1zM262 211h1v1h-1zM375 211h2v1h-2zM719 509h2v1h-2zM732 509h2v1h-2zM221 167h1v2h-1zM599 389h1v3h-1zM59 127h1v1h-1zM89 127h1v1h-1zM143 127h2v1h-2zM159 127h2v1h-2zM596 398h1v2h-1zM658 398h1v2h-1zM423 258h1v2h-1zM624 371h1v1h-1zM637 371h3v1h-3zM25 106h3v1h-3zM1153 164h1v2h-1zM438 302h1v4h-1zM1117 302h1v5h-1zM430 276h1v4h-1zM1123 274h1v4h-1zM47 113h1v1h-1zM195 113h1v1h-1zM1131 243h1v4h-1zM614 375h4v1h-4zM551 424h1v1h-1zM656 393h1v2h-1zM1057 440h2v1h-2zM222 169h1v2h-1zM1151 169h1v3h-1zM269 205h1v1h-1zM555 428h1v1h-1zM576 428h2v1h-2zM1041 450h1v1h-1zM1040 451h1v1h-1zM661 404h1v1h-1zM450 341h1v2h-1zM1108 341h1v4h-1zM403 230h1v1h-1zM422 256h1v2h-1zM1035 456h1v1h-1zM214 152h1v2h-1zM1158 152h1v2h-1zM432 283h1v3h-1zM263 210h1v1h-1zM373 210h2v1h-2zM1034 457h1v2h-1zM554 427h1v1h-1zM578 427h2v1h-2zM1076 427h1v1h-1zM413 239h1v2h-1zM416 244h1v2h-1zM502 358h2v1h-2zM518 358h2v1h-2zM1070 435h1v1h-1zM705 505h1v1h-1zM738 505h1v1h-1zM411 236h1v1h-1zM28 107h4v1h-4zM406 232h1v1h-1zM351 189h1v1h-1zM699 498h1v1h-1zM743 498h1v1h-1zM447 334h1v2h-1zM1049 444h2v1h-2zM435 292h1v3h-1zM549 422h1v1h-1zM583 422h1v1h-1zM1080 422h1v1h-1zM740 502h1v2h-1zM223 171h1v2h-1zM745 495h1v1h-1zM1068 438h1v1h-1zM1039 452h1v1h-1zM313 187h1v1h-1zM348 187h2v1h-2zM426 264h1v2h-1zM603 380h1v1h-1zM703 503h1v1h-1zM1046 446h2v1h-2zM274 199h1v1h-1zM417 246h1v2h-1zM704 504h1v1h-1zM739 504h1v1h-1zM401 228h1v1h-1zM44 111h2v1h-2zM388 218h2v1h-2z" fill="#0000d0"/>
<path d="M495 338h1v1h-1zM1131 338h1v2h-1zM300 200h2v1h-2zM313 200h2v1h-2zM389 200h2v1h-2zM1181 200h1v2h-1zM14 115h1v2h-1zM105 116h2v1h-2zM170 116h12v1h-12zM709 447h1v2h-1zM1078 448h1v2h-1zM435 255h1v2h-1zM1159 255h1v3h-1zM264 174h1v1h-1zM1196 173h1v2h-1zM16 112h1v2h-1zM54 113h2v1h-2zM78 113h4v1h-4zM96 113h4v1h-4zM283 189h1v1h-1zM336 189h8v1h-8zM1187 189h1v2h-1zM475 318h2v1h-2zM1138 317h1v3h-1zM686 417h1v1h-1zM1096 417h1v2h-1zM732 471h1v1h-1zM926 471h4v1h-4zM962 471h5v1h-5zM1034 471h4v1h-4zM714 454h1v1h-1zM1073 454h1v1h-1zM687 418h1v1h-1zM15 114h1v1h-1zM56 114h2v1h-2zM72 114h6v1h-6zM100 114h3v1h-3zM131 131h10v1h-10zM206 131h1v1h-1zM284 190h2v1h-2zM330 190h6v1h-6zM344 190h5v1h-5zM733 472h1v1h-1zM890 472h6v1h-6zM922 472h4v1h-4zM967 472h2v1h-2zM1031 472h3v1h-3zM456 293h1v2h-1zM1146 294h1v3h-1zM701 438h1v1h-1zM1086 437h1v2h-1zM274 181h2v1h-2zM1192 180h1v2h-1zM679 408h1v1h-1zM1101 408h1v1h-1zM544 392h1v1h-1zM650 392h5v1h-5zM661 392h3v1h-3zM1109 390h1v3h-1zM429 244h1v2h-1zM1164 243h1v2h-1zM723 462h1v2h-1zM1066 462h2v1h-2zM729 469h1v1h-1zM936 469h17v1h-17zM1042 469h4v1h-4zM702 439h1v1h-1zM1085 439h1v2h-1zM618 404h3v1h-3zM676 404h1v1h-1zM1103 404h1v2h-1zM12 118h1v2h-1zM109 118h2v1h-2zM165 118h3v1h-3zM186 118h6v1h-6zM410 213h1v1h-1zM1175 213h1v3h-1zM58 115h14v1h-14zM103 115h2v1h-2zM1064 463h2v1h-2zM740 480h1v1h-1zM807 480h2v1h-2zM824 480h8v1h-8zM979 480h3v1h-3zM1010 480h3v1h-3zM685 415h1v2h-1zM1097 415h1v2h-1zM755 488h2v1h-2zM791 488h2v1h-2zM524 373h1v1h-1zM1116 371h1v3h-1zM17 111h1v1h-1zM34 111h15v1h-15zM536 383h1v2h-1zM1112 382h1v2h-1zM546 394h1v1h-1zM561 394h23v1h-23zM646 394h2v1h-2zM666 394h2v1h-2zM1108 393h1v2h-1zM737 476h1v2h-1zM848 476h17v1h-17zM873 476h5v1h-5zM974 476h1v1h-1zM1020 476h3v1h-3zM450 282h1v2h-1zM1150 282h1v3h-1zM739 479h1v1h-1zM809 479h2v1h-2zM816 479h8v1h-8zM832 479h6v1h-6zM978 479h1v1h-1zM1013 479h2v1h-2zM547 395h14v1h-14zM584 395h4v1h-4zM644 395h2v1h-2zM668 395h1v1h-1zM1107 395h1v3h-1zM543 391h1v1h-1zM655 391h6v1h-6zM842 477h6v1h-6zM975 477h1v1h-1zM1017 477h3v1h-3zM711 450h1v1h-1zM1077 450h1v1h-1zM436 257h1v2h-1zM1158 258h1v3h-1zM734 473h1v1h-1zM886 473h4v1h-4zM896 473h17v1h-17zM918 473h4v1h-4zM969 473h2v1h-2zM1028 473h3v1h-3zM478 320h1v1h-1zM1137 320h1v3h-1zM458 297h1v2h-1zM1145 297h1v3h-1zM716 456h1v1h-1zM1072 455h1v2h-1zM461 302h1v1h-1zM1144 300h1v3h-1zM422 230h1v2h-1zM1169 230h1v3h-1zM545 393h1v1h-1zM648 393h2v1h-2zM664 393h2v1h-2zM426 238h1v2h-1zM1166 238h1v3h-1zM412 215h1v2h-1zM1174 216h1v3h-1zM213 139h1v1h-1zM1232 139h6v1h-6zM1258 139h6v1h-6zM509 356h1v1h-1zM1122 356h1v3h-1zM111 119h1v1h-1zM163 119h2v1h-2zM192 119h2v1h-2zM730 470h2v1h-2zM930 470h6v1h-6zM953 470h9v1h-9zM1038 470h4v1h-4zM726 466h1v1h-1zM1054 466h4v1h-4zM451 284h1v2h-1zM1149 285h1v3h-1zM741 481h2v1h-2zM805 481h2v1h-2zM982 481h4v1h-4zM1008 481h2v1h-2zM212 138h1v1h-1zM1238 138h4v1h-4zM1256 138h2v1h-2zM1264 138h5v1h-5zM738 478h1v1h-1zM811 478h5v1h-5zM838 478h4v1h-4zM976 478h2v1h-2zM1015 478h2v1h-2zM523 371h1v2h-1zM305 203h2v1h-2zM308 203h2v1h-2zM394 203h2v1h-2zM1180 202h1v2h-1zM481 323h1v1h-1zM1136 323h1v3h-1zM22 106h1v1h-1zM27 106h1v1h-1zM761 490h12v1h-12zM786 490h3v1h-3zM241 158h3v1h-3zM1206 158h1v1h-1zM703 440h1v1h-1zM428 242h1v2h-1zM1165 241h1v2h-1zM296 197h1v1h-1zM318 197h1v1h-1zM367 197h17v1h-17zM1183 196h1v2h-1zM490 331h1v2h-1zM1133 332h1v3h-1zM704 441h1v1h-1zM1084 441h1v2h-1zM248 161h2v1h-2zM1204 160h1v2h-1zM747 484h2v1h-2zM799 484h2v1h-2zM216 142h1v1h-1zM1219 142h3v1h-3zM218 144h1v1h-1zM1217 144h1v1h-1zM537 385h1v1h-1zM1111 384h1v3h-1zM591 397h4v1h-4zM640 397h2v1h-2zM670 397h1v1h-1zM538 386h1v1h-1zM260 171h1v1h-1zM1197 171h1v2h-1zM588 396h3v1h-3zM642 396h2v1h-2zM669 396h1v1h-1zM735 474h1v1h-1zM882 474h4v1h-4zM913 474h5v1h-5zM971 474h1v1h-1zM1025 474h3v1h-3zM602 400h4v1h-4zM627 400h5v1h-5zM672 400h1v1h-1zM1105 400h1v2h-1zM526 375h2v1h-2zM1115 374h1v2h-1zM736 475h1v1h-1zM865 475h8v1h-8zM878 475h4v1h-4zM972 475h2v1h-2zM1023 475h2v1h-2zM743 482h2v1h-2zM803 482h2v1h-2zM986 482h14v1h-14zM1005 482h3v1h-3zM1147 291h1v3h-1zM460 300h1v2h-1zM420 226h1v2h-1zM1170 227h1v3h-1zM423 232h1v2h-1zM464 306h1v2h-1zM1142 306h1v3h-1zM614 403h4v1h-4zM621 403h2v1h-2zM675 403h1v1h-1zM1104 402h1v2h-1zM288 192h1v1h-1zM325 192h3v1h-3zM351 192h2v1h-2zM1185 192h1v2h-1zM507 352h1v2h-1zM1124 352h1v2h-1zM511 358h1v1h-1zM431 248h1v2h-1zM1162 248h1v2h-1zM262 173h2v1h-2zM448 278h1v2h-1zM1151 279h1v3h-1zM13 117h1v1h-1zM107 117h2v1h-2zM168 117h2v1h-2zM182 117h4v1h-4zM272 180h2v1h-2zM691 423h1v1h-1zM1093 423h1v2h-1zM713 452h1v2h-1zM1074 453h1v1h-1zM488 329h1v1h-1zM1134 329h1v3h-1zM705 442h1v2h-1zM1083 443h1v1h-1zM477 319h1v1h-1zM489 330h1v1h-1zM727 467h1v1h-1zM1050 467h4v1h-4zM706 444h1v1h-1zM1082 444h1v1h-1zM215 141h1v1h-1zM1222 141h4v1h-4zM757 489h4v1h-4zM789 489h2v1h-2zM518 365h1v1h-1zM1119 364h1v2h-1zM441 265h1v2h-1zM1156 264h1v3h-1zM540 388h1v1h-1zM1110 387h1v3h-1zM400 206h2v1h-2zM1178 206h1v2h-1zM210 135h1v2h-1zM1248 136h5v1h-5zM1273 136h2v1h-2zM214 140h1v1h-1zM1226 140h6v1h-6zM297 198h2v1h-2zM316 198h2v1h-2zM384 198h3v1h-3zM1182 198h1v2h-1zM9 121h2v1h-2zM113 121h2v1h-2zM159 121h2v1h-2zM196 121h2v1h-2zM276 182h1v1h-1zM1191 182h1v1h-1zM457 295h1v2h-1zM610 402h4v1h-4zM623 402h2v1h-2zM674 402h1v1h-1zM49 112h5v1h-5zM82 112h14v1h-14zM433 252h1v2h-1zM1161 250h1v3h-1zM292 195h2v1h-2zM320 195h2v1h-2zM359 195h2v1h-2zM1184 194h1v2h-1zM294 196h2v1h-2zM319 196h1v1h-1zM361 196h6v1h-6zM228 151h1v1h-1zM1211 151h1v1h-1zM692 424h1v1h-1zM778 493h3v1h-3zM299 199h1v1h-1zM315 199h1v1h-1zM387 199h2v1h-2zM438 260h1v2h-1zM693 425h1v2h-1zM1092 425h1v2h-1zM211 137h1v1h-1zM1242 137h6v1h-6zM1253 137h3v1h-3zM1269 137h4v1h-4zM480 322h1v1h-1zM494 337h1v1h-1zM1132 335h1v3h-1zM708 446h1v1h-1zM1080 446h1v1h-1zM252 164h1v1h-1zM1202 163h1v2h-1zM414 218h1v1h-1zM233 154h2v1h-2zM1209 154h1v1h-1zM439 262h1v2h-1zM1157 261h1v3h-1zM442 267h1v2h-1zM1155 267h1v3h-1zM443 269h1v1h-1zM452 286h1v2h-1zM231 153h2v1h-2zM1210 152h1v2h-1zM244 159h2v1h-2zM1205 159h1v1h-1zM483 325h2v1h-2zM700 436h1v2h-1zM697 432h1v2h-1zM1088 433h1v2h-1zM255 166h1v1h-1zM1201 165h1v2h-1zM432 250h1v2h-1zM469 313h2v1h-2zM1140 312h1v2h-1zM405 209h1v1h-1zM1177 208h1v2h-1zM302 201h2v1h-2zM312 201h1v1h-1zM391 201h2v1h-2zM453 288h1v2h-1zM1148 288h1v3h-1zM398 205h2v1h-2zM1179 204h1v2h-1zM403 208h2v1h-2zM493 335h1v2h-1zM510 357h1v1h-1zM424 234h1v2h-1zM1168 233h1v3h-1zM710 449h1v1h-1zM749 485h2v1h-2zM797 485h2v1h-2zM606 401h4v1h-4zM625 401h2v1h-2zM673 401h1v1h-1zM751 486h2v1h-2zM795 486h2v1h-2zM217 143h1v1h-1zM1218 143h1v1h-1zM508 354h1v2h-1zM1123 354h1v2h-1zM447 276h1v2h-1zM1152 276h1v3h-1zM496 339h1v2h-1zM1160 253h1v2h-1zM776 492h2v1h-2zM781 492h3v1h-3zM472 315h1v1h-1zM1139 314h1v3h-1zM129 130h2v1h-2zM141 130h2v1h-2zM205 129h1v2h-1zM304 202h1v1h-1zM310 202h2v1h-2zM393 202h1v1h-1zM677 405h1v2h-1zM1102 406h1v2h-1zM246 160h2v1h-2zM411 214h1v1h-1zM209 134h1v1h-1zM514 361h1v1h-1zM1120 361h1v3h-1zM745 483h2v1h-2zM801 483h2v1h-2zM1000 483h5v1h-5zM519 366h1v2h-1zM1118 366h1v3h-1zM497 341h1v1h-1zM1130 340h1v2h-1zM407 211h2v1h-2zM1176 210h1v3h-1zM437 259h1v1h-1zM505 348h1v2h-1zM1126 348h1v2h-1zM425 236h1v2h-1zM1167 236h1v2h-1zM462 303h1v2h-1zM1143 303h1v3h-1zM20 108h1v1h-1zM30 108h1v1h-1zM427 240h1v2h-1zM413 217h1v1h-1zM712 451h1v1h-1zM1076 451h1v1h-1zM542 390h1v1h-1zM595 398h3v1h-3zM637 398h3v1h-3zM671 398h1v2h-1zM1106 398h1v2h-1zM220 146h1v1h-1zM1215 146h1v2h-1zM419 224h1v2h-1zM1171 224h1v3h-1zM229 152h2v1h-2zM521 369h1v1h-1zM1117 369h1v2h-1zM499 343h2v1h-2zM1129 342h1v2h-1zM454 290h1v1h-1zM482 324h1v1h-1zM690 421h1v2h-1zM1094 421h1v2h-1zM506 350h1v2h-1zM1125 350h1v2h-1zM286 191h2v1h-2zM328 191h2v1h-2zM349 191h2v1h-2zM1186 191h1v1h-1zM516 363h1v1h-1zM126 128h2v1h-2zM145 128h2v1h-2zM204 128h1v1h-1zM223 148h2v1h-2zM1214 148h1v1h-1zM598 399h4v1h-4zM632 399h5v1h-5zM694 427h1v1h-1zM1091 427h1v2h-1zM773 491h3v1h-3zM784 491h2v1h-2zM251 163h1v1h-1zM3 124h2v1h-2zM119 124h2v1h-2zM153 124h2v1h-2zM200 124h1v1h-1zM235 155h2v1h-2zM1208 155h1v1h-1zM680 409h1v1h-1zM1100 409h1v2h-1zM237 156h2v1h-2zM1207 156h1v2h-1zM471 314h1v1h-1zM416 220h1v1h-1zM1173 219h1v3h-1zM688 419h1v1h-1zM1095 419h1v2h-1zM417 221h1v2h-1zM258 169h1v1h-1zM1199 168h1v2h-1zM268 178h2v1h-2zM1193 178h1v2h-1zM717 457h2v1h-2zM1071 457h1v1h-1zM259 170h1v1h-1zM1198 170h1v1h-1zM504 346h1v2h-1zM1127 346h1v2h-1zM7 122h2v1h-2zM115 122h2v1h-2zM157 122h2v1h-2zM198 122h1v1h-1zM728 468h1v1h-1zM1046 468h4v1h-4zM225 149h1v1h-1zM1213 149h1v1h-1zM445 272h1v2h-1zM1153 273h1v3h-1zM253 165h2v1h-2zM466 309h1v2h-1zM1141 309h1v3h-1zM265 175h1v1h-1zM1195 175h1v1h-1zM753 487h2v1h-2zM793 487h2v1h-2zM434 254h1v1h-1zM219 145h1v1h-1zM1216 145h1v1h-1zM449 280h1v2h-1zM498 342h1v1h-1zM307 204h1v1h-1zM396 204h2v1h-2zM528 376h1v1h-1zM1114 376h1v3h-1zM19 109h1v1h-1zM31 109h1v1h-1zM124 127h2v1h-2zM147 127h2v1h-2zM203 127h1v1h-1zM279 185h1v1h-1zM1189 185h1v2h-1zM491 333h1v1h-1zM261 172h1v1h-1zM520 368h1v1h-1zM257 168h1v1h-1zM289 193h2v1h-2zM323 193h2v1h-2zM353 193h3v1h-3zM444 270h1v2h-1zM1154 270h1v3h-1zM402 207h1v1h-1zM468 312h1v1h-1zM698 434h1v1h-1zM535 382h1v1h-1zM207 132h1v1h-1zM512 359h1v1h-1zM1121 359h1v2h-1zM221 147h2v1h-2zM23 105h1v1h-1zM25 105h2v1h-2zM267 177h1v1h-1zM1194 176h1v2h-1zM406 210h1v1h-1zM696 430h1v2h-1zM1090 429h1v2h-1zM278 184h1v1h-1zM1190 183h1v2h-1zM281 187h1v1h-1zM1188 187h1v2h-1zM1087 435h1v2h-1zM541 389h1v1h-1zM473 316h1v1h-1zM270 179h2v1h-2zM1075 452h1v1h-1zM719 458h1v1h-1zM1070 458h1v1h-1zM123 126h1v1h-1zM149 126h2v1h-2zM202 126h1v1h-1zM5 123h2v1h-2zM117 123h2v1h-2zM155 123h2v1h-2zM199 123h1v1h-1zM280 186h1v1h-1zM683 413h1v1h-1zM1098 413h1v2h-1zM539 387h1v1h-1zM239 157h2v1h-2zM515 362h1v1h-1zM291 194h1v1h-1zM322 194h1v1h-1zM356 194h3v1h-3zM1079 447h1v1h-1zM485 326h1v1h-1zM1135 326h1v3h-1zM226 150h2v1h-2zM1212 150h1v1h-1zM525 374h1v1h-1zM522 370h1v1h-1zM128 129h1v1h-1zM143 129h2v1h-2zM455 291h1v2h-1zM415 219h1v1h-1zM18 110h1v1h-1zM32 110h2v1h-2zM256 167h1v1h-1zM1200 167h1v1h-1zM11 120h1v1h-1zM112 120h1v1h-1zM161 120h2v1h-2zM194 120h2v1h-2zM266 176h1v1h-1zM695 428h1v2h-1zM277 183h1v1h-1zM699 435h1v1h-1zM465 308h1v1h-1zM681 410h1v2h-1zM715 455h1v1h-1zM724 464h1v1h-1zM1061 464h3v1h-3zM1172 222h1v2h-1zM418 223h1v1h-1zM421 228h1v2h-1zM682 412h1v1h-1zM1099 411h1v2h-1zM446 274h1v2h-1zM21 107h1v1h-1zM28 107h2v1h-2zM463 305h1v1h-1zM467 311h1v1h-1zM24 104h1v1h-1zM529 377h1v1h-1zM250 162h1v1h-1zM1203 162h1v1h-1zM517 364h1v1h-1zM430 246h1v2h-1zM1163 245h1v3h-1zM532 379h1v1h-1zM1113 379h1v3h-1zM1089 431h1v2h-1zM121 125h2v1h-2zM151 125h2v1h-2zM201 125h1v1h-1zM513 360h1v1h-1zM492 334h1v1h-1zM707 445h1v1h-1zM1081 445h1v1h-1zM722 461h1v1h-1zM1068 461h1v1h-1zM501 344h1v1h-1zM1128 344h1v2h-1zM684 414h1v1h-1zM486 327h1v1h-1zM725 465h1v1h-1zM1058 465h3v1h-3zM459 299h1v1h-1zM502 345h2v1h-2zM474 317h1v1h-1zM282 188h1v1h-1zM487 328h1v1h-1zM534 381h1v1h-1zM721 460h1v1h-1zM1069 459h1v2h-1zM678 407h1v1h-1zM530 378h2v1h-2zM689 420h1v1h-1zM440 264h1v1h-1zM409 212h1v1h-1zM720 459h1v1h-1zM533 380h1v1h-1zM208 133h1v1h-1zM479 321h1v1h-1z" fill="#ff0000"/>
<path d="M781 467h2v1h-2zM1062 467h6v1h-6zM90 115h4v1h-4zM114 115h19v1h-19zM63 125h4v1h-4zM182 125h2v1h-2zM194 125h6v1h-6zM758 452h2v1h-2zM1086 452h1v1h-1zM427 221h1v1h-1zM1213 221h1v2h-1zM362 201h1v1h-1zM374 201h4v1h-4zM398 201h2v1h-2zM1225 200h1v2h-1zM264 159h2v1h-2zM1253 159h1v1h-1zM15 133h1v1h-1zM215 133h2v1h-2zM72 122h2v1h-2zM173 122h4v1h-4zM246 147h2v1h-2zM1263 147h1v1h-1zM258 156h2v1h-2zM1255 156h1v2h-1zM24 127h11v1h-11zM49 127h10v1h-10zM186 127h4v1h-4zM202 127h3v1h-3zM576 388h2v1h-2zM608 388h8v1h-8zM642 388h2v1h-2zM1128 387h1v2h-1zM697 428h2v1h-2zM1109 427h1v2h-1zM530 333h1v2h-1zM1153 334h1v2h-1zM463 265h1v1h-1zM1189 264h1v2h-1zM507 308h1v1h-1zM1165 308h1v2h-1zM780 466h1v1h-1zM1068 466h2v1h-2zM793 475h2v1h-2zM878 475h4v1h-4zM921 475h16v1h-16zM959 475h13v1h-13zM1006 475h4v1h-4zM411 208h1v1h-1zM1221 207h1v2h-1zM575 387h1v1h-1zM616 387h6v1h-6zM639 387h3v1h-3zM672 411h1v1h-1zM1116 411h1v2h-1zM478 280h1v1h-1zM1179 280h1v2h-1zM76 120h2v1h-2zM161 120h7v1h-7zM440 236h1v1h-1zM1205 236h1v2h-1zM753 449h2v1h-2zM1090 449h1v1h-1zM792 474h1v1h-1zM882 474h6v1h-6zM915 474h6v1h-6zM937 474h9v1h-9zM953 474h6v1h-6zM1010 474h5v1h-5zM795 476h2v1h-2zM868 476h10v1h-10zM972 476h3v1h-3zM997 476h9v1h-9zM689 422h1v1h-1zM1112 420h1v3h-1zM533 337h1v2h-1zM1152 336h1v2h-1zM746 446h2v1h-2zM1093 446h1v1h-1zM730 438h2v1h-2zM1100 438h1v2h-1zM537 343h1v2h-1zM1149 343h1v2h-1zM819 489h21v1h-21zM579 390h3v1h-3zM600 390h2v1h-2zM645 390h2v1h-2zM1127 389h1v2h-1zM788 472h2v1h-2zM904 472h7v1h-7zM1023 472h8v1h-8zM724 434h2v1h-2zM1104 434h1v1h-1zM433 227h1v1h-1zM1210 227h1v1h-1zM803 480h2v1h-2zM859 480h3v1h-3zM790 473h2v1h-2zM888 473h16v1h-16zM911 473h4v1h-4zM946 473h7v1h-7zM1015 473h8v1h-8zM760 453h2v1h-2zM1084 453h2v1h-2zM434 228h1v2h-1zM1209 228h1v2h-1zM444 241h1v2h-1zM1203 240h1v2h-1zM253 152h1v1h-1zM1258 152h1v2h-1zM448 247h1v1h-1zM1200 246h1v2h-1zM94 114h8v1h-8zM110 114h4v1h-4zM470 271h1v1h-1zM1185 271h1v1h-1zM656 398h1v1h-1zM1123 397h1v2h-1zM305 174h12v1h-12zM1242 174h1v2h-1zM667 407h1v1h-1zM1118 407h1v2h-1zM686 420h1v1h-1zM485 287h1v1h-1zM1175 287h1v2h-1zM503 304h1v1h-1zM1167 303h1v2h-1zM741 444h2v1h-2zM1095 444h1v1h-1zM67 124h3v1h-3zM180 124h2v1h-2zM559 373h1v1h-1zM1135 372h1v2h-1zM539 347h1v2h-1zM1147 347h1v2h-1zM726 435h2v1h-2zM1103 435h1v1h-1zM423 217h1v1h-1zM1216 216h1v2h-1zM80 118h2v1h-2zM142 118h9v1h-9zM543 354h1v2h-1zM1144 354h1v2h-1zM801 479h2v1h-2zM862 479h2v1h-2zM363 202h11v1h-11zM400 202h2v1h-2zM1224 202h1v2h-1zM301 172h2v1h-2zM1244 171h1v2h-1zM666 406h1v1h-1zM1119 405h1v2h-1zM252 151h1v1h-1zM1259 151h1v1h-1zM346 190h2v1h-2zM1232 189h1v2h-1zM248 148h1v1h-1zM1262 148h1v1h-1zM339 186h2v1h-2zM1234 186h1v2h-1zM331 182h2v1h-2zM1237 182h1v1h-1zM82 117h3v1h-3zM138 117h4v1h-4zM249 149h2v1h-2zM1261 149h1v1h-1zM476 277h1v1h-1zM1181 277h1v2h-1zM74 121h2v1h-2zM168 121h5v1h-5zM323 179h3v1h-3zM1239 179h1v1h-1zM465 267h1v1h-1zM1187 267h1v2h-1zM651 394h1v1h-1zM1125 393h1v2h-1zM509 310h1v1h-1zM1164 310h1v2h-1zM337 185h2v1h-2zM1235 185h1v1h-1zM652 395h1v1h-1zM1124 395h1v2h-1zM35 126h14v1h-14zM59 126h4v1h-4zM184 126h2v1h-2zM190 126h4v1h-4zM200 126h2v1h-2zM498 300h1v1h-1zM1169 299h1v2h-1zM733 440h2v1h-2zM1099 440h1v1h-1zM663 404h1v1h-1zM1120 403h1v2h-1zM510 311h1v1h-1zM674 413h1v1h-1zM1115 413h1v2h-1zM457 259h1v1h-1zM1192 259h1v2h-1zM78 119h2v1h-2zM151 119h10v1h-10zM535 340h1v1h-1zM1150 340h1v3h-1zM19 129h1v1h-1zM207 129h2v1h-2zM425 219h1v1h-1zM1214 219h1v2h-1zM561 375h1v1h-1zM1134 374h1v2h-1zM540 349h1v2h-1zM1146 349h1v3h-1zM520 323h1v1h-1zM1158 323h1v2h-1zM494 297h1v1h-1zM1170 297h1v2h-1zM354 195h1v1h-1zM1228 195h1v2h-1zM797 477h2v1h-2zM866 477h2v1h-2zM975 477h3v1h-3zM985 477h12v1h-12zM571 384h2v1h-2zM1130 383h1v2h-1zM262 158h2v1h-2zM1254 158h1v1h-1zM341 187h2v1h-2zM668 408h1v1h-1zM360 200h2v1h-2zM378 200h6v1h-6zM393 200h5v1h-5zM333 183h2v1h-2zM1236 183h1v2h-1zM85 116h5v1h-5zM133 116h5v1h-5zM799 478h2v1h-2zM864 478h2v1h-2zM978 478h7v1h-7zM326 180h2v1h-2zM1238 180h1v2h-1zM359 199h1v1h-1zM384 199h9v1h-9zM1226 198h1v2h-1zM450 250h1v1h-1zM1198 249h1v2h-1zM677 415h2v1h-2zM1114 415h1v3h-1zM696 427h1v1h-1zM812 485h2v1h-2zM849 485h2v1h-2zM582 391h4v1h-4zM598 391h2v1h-2zM647 391h1v1h-1zM1126 391h1v2h-1zM658 400h1v1h-1zM1122 399h1v2h-1zM102 113h8v1h-8zM778 465h2v1h-2zM1070 465h1v1h-1zM487 289h1v1h-1zM1174 289h1v2h-1zM659 401h1v1h-1zM1121 401h1v2h-1zM303 173h2v1h-2zM1243 173h1v1h-1zM527 330h1v1h-1zM1155 330h1v2h-1zM295 170h3v1h-3zM1245 170h1v1h-1zM743 445h3v1h-3zM1094 445h1v1h-1zM729 437h1v1h-1zM1101 437h1v1h-1zM586 392h12v1h-12zM648 392h2v1h-2zM271 162h4v1h-4zM1251 162h1v1h-1zM567 380h1v1h-1zM1132 379h1v2h-1zM578 389h1v1h-1zM602 389h6v1h-6zM644 389h1v1h-1zM474 275h1v1h-1zM1182 275h1v2h-1zM783 468h1v1h-1zM1053 468h9v1h-9zM670 410h2v1h-2zM1117 409h1v2h-1zM770 459h1v1h-1zM1077 459h1v1h-1zM480 282h1v1h-1zM1178 282h1v2h-1zM545 358h1v2h-1zM1142 358h1v2h-1zM690 423h2v1h-2zM1111 423h1v2h-1zM1154 332h1v2h-1zM506 307h1v1h-1zM1166 305h1v3h-1zM653 396h1v1h-1zM511 312h1v1h-1zM1163 312h1v2h-1zM654 397h2v1h-2zM512 313h1v1h-1zM551 366h1v1h-1zM1138 366h1v2h-1zM817 488h2v1h-2zM840 488h5v1h-5zM445 243h1v1h-1zM1202 242h1v2h-1zM704 430h14v1h-14zM1107 430h1v1h-1zM574 386h1v1h-1zM622 386h4v1h-4zM632 386h7v1h-7zM1129 385h1v2h-1zM438 233h1v2h-1zM1207 232h1v2h-1zM452 252h1v2h-1zM1197 251h1v2h-1zM11 137h1v1h-1zM223 137h3v1h-3zM679 416h2v1h-2zM482 284h1v1h-1zM1177 284h1v1h-1zM4 142h2v1h-2zM235 142h2v1h-2zM1268 142h2v1h-2zM282 165h2v1h-2zM1249 165h1v1h-1zM298 171h3v1h-3zM515 317h1v1h-1zM1161 316h1v3h-1zM489 291h1v1h-1zM1173 291h1v2h-1zM290 168h3v1h-3zM1247 167h1v2h-1zM20 128h4v1h-4zM205 128h2v1h-2zM447 245h1v2h-1zM1201 244h1v2h-1zM569 382h1v1h-1zM1131 381h1v2h-1zM18 130h1v1h-1zM209 130h2v1h-2zM321 178h2v1h-2zM1240 177h1v2h-1zM70 123h2v1h-2zM177 123h3v1h-3zM268 161h3v1h-3zM1252 160h1v2h-1zM240 144h2v1h-2zM1266 144h1v1h-1zM260 157h2v1h-2zM242 145h2v1h-2zM1265 145h1v1h-1zM6 141h1v1h-1zM233 141h2v1h-2zM1270 141h1v1h-1zM317 175h1v1h-1zM266 160h2v1h-2zM514 316h1v1h-1zM748 447h3v1h-3zM1092 447h1v1h-1zM787 471h1v1h-1zM1031 471h8v1h-8zM517 319h1v2h-1zM1160 319h1v2h-1zM751 448h2v1h-2zM1091 448h1v1h-1zM490 292h1v2h-1zM1172 293h1v2h-1zM735 441h2v1h-2zM1098 441h1v1h-1zM547 362h1v1h-1zM1140 362h1v2h-1zM10 138h1v1h-1zM226 138h2v1h-2zM1274 138h1v1h-1zM255 154h2v1h-2zM1257 154h1v1h-1zM809 483h2v1h-2zM853 483h2v1h-2zM454 255h1v1h-1zM1195 254h1v2h-1zM455 256h1v2h-1zM1194 256h1v1h-1zM477 278h1v2h-1zM1180 279h1v1h-1zM573 385h1v1h-1zM626 385h6v1h-6zM722 433h2v1h-2zM1105 432h1v2h-1zM541 351h1v1h-1zM431 225h1v1h-1zM1211 225h1v2h-1zM349 192h2v1h-2zM1230 192h1v2h-1zM669 409h1v1h-1zM432 226h1v1h-1zM473 274h1v1h-1zM1183 274h1v1h-1zM529 332h1v1h-1zM505 306h1v1h-1zM13 135h1v1h-1zM219 135h2v1h-2zM684 419h2v1h-2zM1113 418h1v2h-1zM439 235h1v1h-1zM1206 234h1v2h-1zM664 405h2v1h-2zM681 417h2v1h-2zM483 285h1v1h-1zM1176 285h1v2h-1zM516 318h1v1h-1zM287 167h3v1h-3zM468 270h2v1h-2zM1186 269h1v2h-1zM358 198h1v1h-1zM328 181h3v1h-3zM764 455h1v1h-1zM1082 455h1v1h-1zM531 335h1v1h-1zM508 309h1v1h-1zM3 143h1v1h-1zM237 143h3v1h-3zM1267 143h1v1h-1zM546 360h1v2h-1zM1141 360h1v2h-1zM406 205h2v1h-2zM1222 205h1v2h-1zM7 140h1v1h-1zM230 140h3v1h-3zM1271 140h1v1h-1zM699 429h5v1h-5zM1108 429h1v1h-1zM650 393h1v1h-1zM660 402h2v1h-2zM441 237h1v2h-1zM785 470h2v1h-2zM1039 470h8v1h-8zM662 403h1v1h-1zM1151 338h1v2h-1zM416 212h2v1h-2zM1218 212h1v2h-1zM739 443h2v1h-2zM1096 443h1v1h-1zM534 339h1v1h-1zM536 341h1v2h-1zM446 244h1v1h-1zM732 439h1v1h-1zM451 251h1v1h-1zM814 486h2v1h-2zM847 486h2v1h-2zM693 425h2v1h-2zM1110 425h1v2h-1zM518 321h1v1h-1zM1159 321h1v2h-1zM657 399h1v1h-1zM284 166h3v1h-3zM1248 166h1v1h-1zM555 370h1v1h-1zM1136 370h1v2h-1zM419 214h1v1h-1zM1217 214h1v2h-1zM244 146h2v1h-2zM1264 146h1v1h-1zM718 431h2v1h-2zM1106 431h1v1h-1zM728 436h1v1h-1zM1102 436h1v1h-1zM720 432h2v1h-2zM523 326h1v1h-1zM1157 325h1v3h-1zM1196 253h1v1h-1zM811 484h1v1h-1zM851 484h2v1h-2zM459 261h1v1h-1zM1191 261h1v1h-1zM458 260h1v1h-1zM345 189h1v1h-1zM293 169h2v1h-2zM1246 169h1v1h-1zM355 196h1v1h-1zM436 231h1v1h-1zM1208 230h1v2h-1zM500 302h2v1h-2zM1168 301h1v2h-1zM335 184h2v1h-2zM318 176h2v1h-2zM1241 176h1v1h-1zM8 139h2v1h-2zM228 139h2v1h-2zM1272 139h2v1h-2zM320 177h1v1h-1zM467 269h1v1h-1zM348 191h1v1h-1zM1231 191h1v1h-1zM737 442h2v1h-2zM1097 442h1v1h-1zM475 276h1v1h-1zM356 197h2v1h-2zM1227 197h1v1h-1zM12 136h1v1h-1zM221 136h2v1h-2zM762 454h2v1h-2zM1083 454h1v1h-1zM481 283h1v1h-1zM479 281h1v1h-1zM683 418h1v1h-1zM461 263h1v1h-1zM1190 262h1v2h-1zM552 367h1v1h-1zM254 153h1v1h-1zM16 132h1v1h-1zM213 132h2v1h-2zM784 469h1v1h-1zM1047 469h6v1h-6zM687 421h2v1h-2zM453 254h1v1h-1zM554 369h1v1h-1zM1137 368h1v2h-1zM755 450h2v1h-2zM1088 450h2v1h-2zM522 325h1v1h-1zM562 376h1v1h-1zM1133 376h1v3h-1zM768 458h2v1h-2zM1078 458h2v1h-2zM675 414h2v1h-2zM538 345h1v2h-1zM1148 345h1v2h-1zM491 294h1v1h-1zM566 379h1v1h-1zM557 372h2v1h-2zM499 301h1v1h-1zM1193 257h1v2h-1zM488 290h1v1h-1zM771 460h1v1h-1zM1076 460h1v1h-1zM466 268h1v1h-1zM414 210h1v1h-1zM1220 209h1v2h-1zM502 303h1v1h-1zM404 204h2v1h-2zM1223 204h1v1h-1zM805 481h2v1h-2zM857 481h2v1h-2zM692 424h1v1h-1zM437 232h1v1h-1zM279 164h3v1h-3zM1250 163h1v2h-1zM408 206h2v1h-2zM442 239h1v1h-1zM1204 238h1v2h-1zM443 240h1v1h-1zM14 134h1v1h-1zM217 134h2v1h-2zM553 368h1v1h-1zM418 213h1v1h-1zM464 266h1v1h-1zM1188 266h1v1h-1zM497 299h1v1h-1zM556 371h1v1h-1zM460 262h1v1h-1zM519 322h1v1h-1zM420 215h2v1h-2zM428 222h1v1h-1zM524 327h1v1h-1zM564 378h2v1h-2zM542 352h1v2h-1zM1145 352h1v2h-1zM412 209h2v1h-2zM257 155h1v1h-1zM1256 155h1v1h-1zM492 295h1v1h-1zM1171 295h1v2h-1zM493 296h1v1h-1zM525 328h1v1h-1zM1156 328h1v2h-1zM526 329h1v1h-1zM462 264h1v1h-1zM430 224h1v1h-1zM1212 223h1v2h-1zM484 286h1v1h-1zM532 336h1v1h-1zM772 461h1v1h-1zM1075 461h1v1h-1zM549 364h1v1h-1zM1139 364h1v2h-1zM17 131h1v1h-1zM211 131h2v1h-2zM550 365h1v1h-1zM422 216h1v1h-1zM544 356h1v2h-1zM1143 356h1v2h-1zM528 331h1v1h-1zM673 412h1v1h-1zM449 248h1v2h-1zM1199 248h1v1h-1zM568 381h1v1h-1zM807 482h2v1h-2zM855 482h2v1h-2zM816 487h1v1h-1zM845 487h2v1h-2zM695 426h1v1h-1zM486 288h1v1h-1zM513 314h1v2h-1zM1162 314h1v2h-1zM563 377h1v1h-1zM275 163h4v1h-4zM429 223h1v1h-1zM570 383h1v1h-1zM435 230h1v1h-1zM456 258h1v1h-1zM521 324h1v1h-1zM757 451h1v1h-1zM1087 451h1v1h-1zM774 463h2v1h-2zM1072 463h2v1h-2zM471 272h1v1h-1zM1184 272h1v2h-1zM415 211h1v1h-1zM1219 211h1v1h-1zM767 457h1v1h-1zM1080 457h1v1h-1zM495 298h2v1h-2zM410 207h1v1h-1zM402 203h2v1h-2zM548 363h1v1h-1zM560 374h1v1h-1zM776 464h2v1h-2zM1071 464h1v1h-1zM426 220h1v1h-1zM773 462h1v1h-1zM1074 462h1v1h-1zM351 193h1v1h-1zM352 194h2v1h-2zM1229 194h1v1h-1zM472 273h1v1h-1zM504 305h1v1h-1zM765 456h2v1h-2zM1081 456h1v1h-1zM343 188h2v1h-2zM1233 188h1v1h-1zM251 150h1v1h-1zM1260 150h1v1h-1zM424 218h1v1h-1zM1215 218h1v1h-1z" fill="#ffff00"/>
<rect x="1089" y="192" width="238" height="5" fill="#99cc00"/>
<rect x="1088" y="316" width="243" height="5" fill="#3a8ee6"/>
</g>
<rect x="3" y="608" width="1" height="21" fill="#c0c0c0"/>
<rect x="11" y="605" width="1" height="24" fill="#c0c0c0"/>
<rect x="19" y="604" width="1" height="25" fill="#c0c0c0"/>
<rect x="27" y="608" width="1" height="21" fill="#c0c0c0"/>
<rect x="35" y="614" width="1" height="15" fill="#c0c0c0"/>
<rect x="43" y="617" width="1" height="12" fill="#c0c0c0"/>
<rect x="51" y="619" width="1" height="10" fill="#c0c0c0"/>
<rect x="59" y="621" width="1" height="8" fill="#c0c0c0"/>
<rect x="67" y="621" width="1" height="8" fill="#c0c0c0"/>
<rect x="75" y="620" width="1" height="9" fill="#c0c0c0"/>
<rect x="83" y="619" width="1" height="10" fill="#c0c0c0"/>
<rect x="91" y="619" width="1" height="10" fill="#c0c0c0"/>
<rect x="99" y="619" width="1" height="10" fill="#c0c0c0"/>
<rect x="107" y="621" width="1" height="8" fill="#c0c0c0"/>
<rect x="115" y="623" width="1" height="6" fill="#c0c0c0"/>
<rect x="123" y="624" width="1" height="5" fill="#c0c0c0"/>
<rect x="131" y="623" width="1" height="6" fill="#c0c0c0"/>
<rect x="139" y="624" width="1" height="5" fill="#c0c0c0"/>
<rect x="147" y="625" width="1" height="4" fill="#c0c0c0"/>
<rect x="155" y="625" width="1" height="4" fill="#c0c0c0"/>
<rect x="163" y="624" width="1" height="5" fill="#c0c0c0"/>
<rect x="171" y="623" width="1" height="6" fill="#c0c0c0"/>
<rect x="179" y="624" width="1" height="5" fill="#c0c0c0"/>
<rect x="187" y="625" width="1" height="4" fill="#c0c0c0"/>
<rect x="195" y="624" width="1" height="5" fill="#c0c0c0"/>
<rect x="203" y="628" width="1" height="1" fill="#c0c0c0"/>
<rect x="211" y="628" width="1" height="7" fill="#c0c0c0"/>
<rect x="219" y="628" width="1" height="10" fill="#c0c0c0"/>
<rect x="227" y="628" width="1" height="12" fill="#c0c0c0"/>
<rect x="235" y="628" width="1" height="13" fill="#c0c0c0"/>
<rect x="243" y="628" width="1" height="11" fill="#c0c0c0"/>
<rect x="251" y="628" width="1" height="11" fill="#c0c0c0"/>
<rect x="259" y="628" width="1" height="13" fill="#c0c0c0"/>
<rect x="267" y="628" width="1" height="13" fill="#c0c0c0"/>
<rect x="275" y="628" width="1" height="12" fill="#c0c0c0"/>
<rect x="283" y="628" width="1" height="11" fill="#c0c0c0"/>
<rect x="291" y="628" width="1" height="11" fill="#c0c0c0"/>
<rect x="299" y="628" width="1" height="9" fill="#c0c0c0"/>
<rect x="307" y="628" width="1" height="9" fill="#c0c0c0"/>
<rect x="315" y="628" width="1" height="6" fill="#c0c0c0"/>
<rect x="323" y="628" width="1" height="6" fill="#c0c0c0"/>
<rect x="331" y="628" width="1" height="6" fill="#c0c0c0"/>
<rect x="339" y="628" width="1" height="6" fill="#c0c0c0"/>
<rect x="347" y="628" width="1" height="7" fill="#c0c0c0"/>
<rect x="355" y="628" width="1" height="8" fill="#c0c0c0"/>
<rect x="363" y="628" width="1" height="9" fill="#c0c0c0"/>
<rect x="371" y="628" width="1" height="10" fill="#c0c0c0"/>
<rect x="379" y="628" width="1" height="10" fill="#c0c0c0"/>
<rect x="387" y="628" width="1" height="10" fill="#c0c0c0"/>
<rect x="395" y="628" width="1" height="10" fill="#c0c0c0"/>
<rect x="403" y="628" width="1" height="12" fill="#c0c0c0"/>
<rect x="411" y="628" width="1" height="13" fill="#c0c0c0"/>
<rect x="419" y="628" width="1" height="17" fill="#c0c0c0"/>
<rect x="427" y="628" width="1" height="23" fill="#c0c0c0"/>
<rect x="435" y="628" width="1" height="28" fill="#c0c0c0"/>
<rect x="443" y="628" width="1" height="33" fill="#c0c0c0"/>
<rect x="451" y="628" width="1" height="35" fill="#c0c0c0"/>
<rect x="459" y="628" width="1" height="36" fill="#c0c0c0"/>
<rect x="467" y="628" width="1" height="36" fill="#c0c0c0"/>
<rect x="475" y="628" width="1" height="33" fill="#c0c0c0"/>
<rect x="483" y="628" width="1" height="31" fill="#c0c0c0"/>
<rect x="491" y="628" width="1" height="27" fill="#c0c0c0"/>
<rect x="499" y="628" width="1" height="26" fill="#c0c0c0"/>
<rect x="507" y="628" width="1" height="25" fill="#c0c0c0"/>
<rect x="515" y="628" width="1" height="27" fill="#c0c0c0"/>
<rect x="523" y="628" width="1" height="28" fill="#c0c0c0"/>
<rect x="531" y="628" width="1" height="30" fill="#c0c0c0"/>
<rect x="539" y="628" width="1" height="33" fill="#c0c0c0"/>
<rect x="547" y="628" width="1" height="36" fill="#c0c0c0"/>
<rect x="555" y="628" width="1" height="33" fill="#c0c0c0"/>
<rect x="563" y="628" width="1" height="30" fill="#c0c0c0"/>
<rect x="571" y="628" width="1" height="28" fill="#c0c0c0"/>
<rect x="579" y="628" width="1" height="24" fill="#c0c0c0"/>
<rect x="587" y="628" width="1" height="21" fill="#c0c0c0"/>
<rect x="595" y="628" width="1" height="18" fill="#c0c0c0"/>
<rect x="603" y="628" width="1" height="14" fill="#c0c0c0"/>
<rect x="611" y="628" width="1" height="14" fill="#c0c0c0"/>
<rect x="619" y="628" width="1" height="12" fill="#c0c0c0"/>
<rect x="627" y="628" width="1" height="10" fill="#c0c0c0"/>
<rect x="635" y="628" width="1" height="10" fill="#c0c0c0"/>
<rect x="643" y="628" width="1" height="10" fill="#c0c0c0"/>
<rect x="651" y="628" width="1" height="12" fill="#c0c0c0"/>
<rect x="659" y="628" width="1" height="14" fill="#c0c0c0"/>
<rect x="667" y="628" width="1" height="17" fill="#c0c0c0"/>
<rect x="675" y="628" width="1" height="20" fill="#c0c0c0"/>
<rect x="683" y="628" width="1" height="24" fill="#c0c0c0"/>
<rect x="691" y="628" width="1" height="26" fill="#c0c0c0"/>
<rect x="699" y="628" width="1" height="28" fill="#c0c0c0"/>
<rect x="707" y="628" width="1" height="28" fill="#c0c0c0"/>
<rect x="715" y="628" width="1" height="26" fill="#c0c0c0"/>
<rect x="723" y="628" width="1" height="25" fill="#c0c0c0"/>
<rect x="731" y="628" width="1" height="25" fill="#c0c0c0"/>
<rect x="739" y="628" width="1" height="23" fill="#c0c0c0"/>
<rect x="747" y="628" width="1" height="19" fill="#c0c0c0"/>
<rect x="755" y="628" width="1" height="17" fill="#c0c0c0"/>
<rect x="763" y="628" width="1" height="15" fill="#c0c0c0"/>
<rect x="771" y="628" width="1" height="15" fill="#c0c0c0"/>
<rect x="779" y="628" width="1" height="15" fill="#c0c0c0"/>
<rect x="787" y="628" width="1" height="13" fill="#c0c0c0"/>
<rect x="795" y="628" width="1" height="13" fill="#c0c0c0"/>
<rect x="803" y="628" width="1" height="11" fill="#c0c0c0"/>
<rect x="811" y="628" width="1" height="10" fill="#c0c0c0"/>
<rect x="819" y="628" width="1" height="12" fill="#c0c0c0"/>
<rect x="827" y="628" width="1" height="12" fill="#c0c0c0"/>
<rect x="835" y="628" width="1" height="10" fill="#c0c0c0"/>
<rect x="843" y="628" width="1" height="9" fill="#c0c0c0"/>
<rect x="851" y="628" width="1" height="8" fill="#c0c0c0"/>
<rect x="859" y="628" width="1" height="5" fill="#c0c0c0"/>
<rect x="867" y="628" width="1" height="4" fill="#c0c0c0"/>
<rect x="875" y="628" width="1" height="3" fill="#c0c0c0"/>
<rect x="883" y="628" width="1" height="3" fill="#c0c0c0"/>
<rect x="891" y="628" width="1" height="2" fill="#c0c0c0"/>
<rect x="899" y="628" width="1" height="3" fill="#c0c0c0"/>
<rect x="907" y="628" width="1" height="3" fill="#c0c0c0"/>
<rect x="915" y="628" width="1" height="4" fill="#c0c0c0"/>
<rect x="923" y="628" width="1" height="3" fill="#c0c0c0"/>
<rect x="931" y="628" width="1" height="3" fill="#c0c0c0"/>
<rect x="939" y="628" width="1" height="3" fill="#c0c0c0"/>
<rect x="947" y="628" width="1" height="3" fill="#c0c0c0"/>
<rect x="955" y="628" width="1" height="3" fill="#c0c0c0"/>
<rect x="963" y="628" width="1" height="4" fill="#c0c0c0"/>
<rect x="971" y="628" width="1" height="4" fill="#c0c0c0"/>
<rect x="979" y="628" width="1" height="6" fill="#c0c0c0"/>
<rect x="987" y="628" width="1" height="6" fill="#c0c0c0"/>
<rect x="995" y="628" width="1" height="4" fill="#c0c0c0"/>
<rect x="1003" y="628" width="1" height="4" fill="#c0c0c0"/>
<rect x="1011" y="628" width="1" height="2" fill="#c0c0c0"/>
<rect x="1019" y="628" width="1" height="1" fill="#c0c0c0"/>
<rect x="1027" y="627" width="1" height="2" fill="#c0c0c0"/>
<rect x="1035" y="625" width="1" height="4" fill="#c0c0c0"/>
<rect x="1043" y="625" width="1" height="4" fill="#c0c0c0"/>
<rect x="1051" y="625" width="1" height="4" fill="#c0c0c0"/>
<rect x="1059" y="624" width="1" height="5" fill="#c0c0c0"/>
<rect x="1067" y="623" width="1" height="6" fill="#c0c0c0"/>
<rect x="1075" y="619" width="1" height="10" fill="#c0c0c0"/>
<rect x="1083" y="616" width="1" height="13" fill="#c0c0c0"/>
<rect x="1091" y="612" width="1" height="17" fill="#c0c0c0"/>
<rect x="1099" y="607" width="1" height="22" fill="#c0c0c0"/>
<rect x="1107" y="602" width="1" height="27" fill="#c0c0c0"/>
<rect x="1115" y="594" width="1" height="35" fill="#c0c0c0"/>
<rect x="1123" y="588" width="1" height="41" fill="#c0c0c0"/>
<rect x="1131" y="584" width="1" height="45" fill="#c0c0c0"/>
<rect x="1139" y="579" width="1" height="50" fill="#c0c0c0"/>
<rect x="1147" y="575" width="1" height="54" fill="#c0c0c0"/>
<rect x="1155" y="574" width="1" height="55" fill="#c0c0c0"/>
<rect x="1163" y="573" width="1" height="56" fill="#c0c0c0"/>
<rect x="1171" y="573" width="1" height="56" fill="#c0c0c0"/>
<rect x="1179" y="574" width="1" height="55" fill="#c0c0c0"/>
<rect x="1187" y="578" width="1" height="51" fill="#c0c0c0"/>
<rect x="1195" y="580" width="1" height="49" fill="#c0c0c0"/>
<rect x="1203" y="582" width="1" height="47" fill="#c0c0c0"/>
<rect x="1211" y="583" width="1" height="46" fill="#c0c0c0"/>
<rect x="1219" y="584" width="1" height="45" fill="#c0c0c0"/>
<rect x="1227" y="586" width="1" height="43" fill="#c0c0c0"/>
<rect x="1235" y="589" width="1" height="40" fill="#c0c0c0"/>
<rect x="1243" y="591" width="1" height="38" fill="#c0c0c0"/>
<rect x="1251" y="593" width="1" height="36" fill="#c0c0c0"/>
<rect x="1259" y="595" width="1" height="34" fill="#c0c0c0"/>
<rect x="1267" y="596" width="1" height="33" fill="#c0c0c0"/>
<rect x="1275" y="596" width="1" height="33" fill="#c0c0c0"/>
<path d="M250 634h2v1h-2zM255 634h1v1h-1zM891 634h3v1h-3zM706 648h2v1h-2zM711 648h1v1h-1zM777 648h3v1h-3zM328 637h2v1h-2zM333 637h3v1h-3zM400 637h2v1h-2zM405 637h3v1h-3zM867 637h3v1h-3zM64 611h2v1h-2zM69 611h1v1h-1zM1119 611h2v1h-2zM237 631h3v1h-3zM916 631h2v1h-2zM921 631h3v1h-3zM927 631h3v1h-3zM933 631h3v1h-3zM939 631h3v1h-3zM945 631h3v1h-3zM951 631h3v1h-3zM957 631h3v1h-3zM963 631h3v1h-3zM969 631h3v1h-3zM975 631h3v1h-3zM981 631h3v1h-3zM1023 631h3v1h-3zM1029 631h3v1h-3zM489 659h3v1h-3zM495 659h3v1h-3zM501 659h3v1h-3zM507 659h3v1h-3zM51 608h3v1h-3zM1125 608h1v1h-1zM483 658h3v1h-3zM513 658h3v1h-3zM519 658h3v1h-3zM525 658h3v1h-3zM561 658h3v1h-3zM567 658h3v1h-3zM573 658h3v1h-3zM579 658h3v1h-3zM153 622h3v1h-3zM159 622h3v1h-3zM1083 622h3v1h-3zM208 625h2v1h-2zM213 625h1v1h-1zM1071 625h1v1h-1zM201 624h3v1h-3zM207 624h1v1h-1zM1072 624h2v1h-2zM1192 576h2v1h-2zM1197 576h3v1h-3zM1209 576h3v1h-3zM1215 576h1v1h-1zM231 630h3v1h-3zM1035 630h3v1h-3zM243 632h3v1h-3zM904 632h2v1h-2zM909 632h3v1h-3zM915 632h1v1h-1zM987 632h3v1h-3zM993 632h3v1h-3zM999 632h3v1h-3zM1005 632h3v1h-3zM1011 632h3v1h-3zM1017 632h3v1h-3zM165 623h3v1h-3zM171 623h3v1h-3zM177 623h3v1h-3zM183 623h3v1h-3zM189 623h3v1h-3zM195 623h3v1h-3zM1077 623h3v1h-3zM442 645h2v1h-2zM634 645h2v1h-2zM795 645h3v1h-3zM1173 581h2v1h-2zM1240 581h2v1h-2zM280 640h2v1h-2zM285 640h3v1h-3zM291 640h3v1h-3zM297 640h3v1h-3zM303 640h1v1h-1zM424 640h2v1h-2zM832 640h2v1h-2zM837 640h3v1h-3zM843 640h3v1h-3zM465 652h1v1h-1zM610 652h2v1h-2zM729 652h3v1h-3zM735 652h1v1h-1zM753 652h3v1h-3zM1185 577h3v1h-3zM1191 577h1v1h-1zM1216 577h2v1h-2zM1221 577h3v1h-3zM9 606h3v1h-3zM15 606h3v1h-3zM21 606h3v1h-3zM27 606h3v1h-3zM33 606h3v1h-3zM39 606h1v1h-1zM429 641h3v1h-3zM651 641h3v1h-3zM657 641h3v1h-3zM663 641h3v1h-3zM669 641h3v1h-3zM675 641h3v1h-3zM819 641h3v1h-3zM825 641h3v1h-3zM831 641h1v1h-1zM466 653h2v1h-2zM609 653h1v1h-1zM736 653h2v1h-2zM741 653h3v1h-3zM747 653h3v1h-3zM1137 601h2v1h-2zM261 636h3v1h-3zM339 636h3v1h-3zM345 636h3v1h-3zM351 636h1v1h-1zM387 636h3v1h-3zM393 636h3v1h-3zM399 636h1v1h-1zM873 636h3v1h-3zM879 636h1v1h-1zM531 657h3v1h-3zM537 657h3v1h-3zM543 657h3v1h-3zM549 657h3v1h-3zM555 657h3v1h-3zM585 657h3v1h-3zM591 657h1v1h-1zM273 639h3v1h-3zM279 639h1v1h-1zM304 639h2v1h-2zM309 639h3v1h-3zM315 639h3v1h-3zM417 639h3v1h-3zM423 639h1v1h-1zM849 639h3v1h-3zM855 639h1v1h-1zM117 620h3v1h-3zM123 620h3v1h-3zM129 620h3v1h-3zM135 620h3v1h-3zM141 620h3v1h-3zM1095 620h3v1h-3zM87 616h3v1h-3zM1107 616h2v1h-2zM459 651h3v1h-3zM615 651h3v1h-3zM723 651h3v1h-3zM759 651h3v1h-3zM267 638h3v1h-3zM321 638h3v1h-3zM327 638h1v1h-1zM411 638h3v1h-3zM856 638h2v1h-2zM861 638h3v1h-3zM646 642h2v1h-2zM681 642h3v1h-3zM687 642h1v1h-1zM808 642h2v1h-2zM813 642h3v1h-3zM256 635h2v1h-2zM352 635h2v1h-2zM357 635h3v1h-3zM363 635h3v1h-3zM369 635h3v1h-3zM375 635h3v1h-3zM381 635h3v1h-3zM880 635h2v1h-2zM885 635h3v1h-3zM219 627h3v1h-3zM1059 627h3v1h-3zM435 643h3v1h-3zM645 643h1v1h-1zM688 643h2v1h-2zM802 643h2v1h-2zM807 643h1v1h-1zM471 654h3v1h-3zM603 654h3v1h-3zM58 610h2v1h-2zM63 610h1v1h-1zM1121 610h1v1h-1zM147 621h3v1h-3zM1089 621h3v1h-3zM1179 578h3v1h-3zM1227 578h3v1h-3zM1163 586h1v1h-1zM1258 586h2v1h-2zM1263 586h1v1h-1zM477 656h3v1h-3zM592 656h2v1h-2zM597 656h1v1h-1zM448 647h2v1h-2zM627 647h3v1h-3zM705 647h1v1h-1zM783 647h3v1h-3zM3 607h3v1h-3zM40 607h2v1h-2zM45 607h3v1h-3zM1126 607h2v1h-2zM453 649h3v1h-3zM621 649h3v1h-3zM712 649h2v1h-2zM717 649h1v1h-1zM771 649h3v1h-3zM1155 590h2v1h-2zM105 619h3v1h-3zM111 619h3v1h-3zM75 613h3v1h-3zM1114 613h2v1h-2zM57 609h1v1h-1zM441 644h1v1h-1zM639 644h3v1h-3zM693 644h3v1h-3zM801 644h1v1h-1zM226 629h2v1h-2zM1041 629h3v1h-3zM1047 629h1v1h-1zM1269 588h2v1h-2zM1175 580h1v1h-1zM1234 580h2v1h-2zM1239 580h1v1h-1zM81 614h1v1h-1zM1113 614h1v1h-1zM1167 584h2v1h-2zM1251 584h3v1h-3zM249 633h1v1h-1zM897 633h3v1h-3zM903 633h1v1h-1zM447 646h1v1h-1zM633 646h1v1h-1zM699 646h3v1h-3zM789 646h3v1h-3zM1144 597h1v1h-1zM93 617h3v1h-3zM1245 582h3v1h-3zM99 618h3v1h-3zM1101 618h3v1h-3zM718 650h2v1h-2zM765 650h3v1h-3zM1203 575h3v1h-3zM82 615h2v1h-2zM1109 615h1v1h-1zM1131 604h2v1h-2zM225 628h1v1h-1zM1048 628h2v1h-2zM1053 628h3v1h-3zM214 626h2v1h-2zM1065 626h3v1h-3zM1257 585h1v1h-1zM70 612h2v1h-2zM1150 593h2v1h-2zM1161 587h2v1h-2zM1264 587h2v1h-2zM598 655h2v1h-2zM1169 583h1v1h-1zM1157 589h1v1h-1zM1271 589h1v1h-1zM1233 579h1v1h-1zM1145 596h1v1h-1zM1149 594h1v1h-1zM1133 603h1v1h-1zM1143 598h1v1h-1zM1139 600h1v1h-1z" fill="#ff0000"/>
<path d="M34 745h1v1h-1zM36 745h1v1h-1zM200 743h1v3h-1zM237 744h1v2h-1zM254 745h2v1h-2zM267 745h1v1h-1zM347 745h3v1h-3zM359 745h2v1h-2zM374 745h2v1h-2zM392 745h1v1h-1zM488 745h1v1h-1zM494 745h1v1h-1zM558 745h1v1h-1zM571 745h2v1h-2zM647 745h1v1h-1zM715 745h2v1h-2zM739 745h1v1h-1zM770 745h1v1h-1zM782 745h1v1h-1zM814 745h1v1h-1zM825 744h1v2h-1zM974 744h1v2h-1zM984 745h1v2h-1zM29 738h1v2h-1zM48 738h8v1h-8zM111 738h2v1h-2zM118 738h2v1h-2zM198 738h1v3h-1zM242 738h1v1h-1zM244 738h2v1h-2zM275 738h5v1h-5zM297 738h2v1h-2zM301 738h3v1h-3zM309 738h1v1h-1zM323 738h3v1h-3zM586 738h11v1h-11zM607 738h1v1h-1zM619 738h5v1h-5zM747 738h5v1h-5zM832 738h2v1h-2zM839 738h2v1h-2zM848 738h2v1h-2zM875 738h11v1h-11zM894 738h2v1h-2zM923 738h18v1h-18zM951 738h1v1h-1zM993 738h2v1h-2zM31 741h1v1h-1zM41 741h1v1h-1zM199 741h1v2h-1zM240 741h1v1h-1zM249 741h2v1h-2zM272 741h1v1h-1zM288 741h2v1h-2zM292 741h2v1h-2zM340 741h2v1h-2zM379 741h5v1h-5zM563 741h2v1h-2zM579 741h2v1h-2zM610 741h1v1h-1zM613 741h2v1h-2zM634 741h10v1h-10zM744 741h1v1h-1zM765 741h1v1h-1zM786 741h1v1h-1zM789 741h3v1h-3zM800 741h2v1h-2zM808 741h4v1h-4zM828 741h2v1h-2zM899 741h5v1h-5zM909 741h3v1h-3zM918 741h2v1h-2zM954 741h1v1h-1zM968 741h1v1h-1zM972 740h1v2h-1zM987 741h2v1h-2zM207 755h2v1h-2zM214 755h2v1h-2zM415 754h1v2h-1zM469 754h1v2h-1zM513 754h1v2h-1zM551 755h1v3h-1zM659 755h2v1h-2zM673 755h2v1h-2zM706 755h1v1h-1zM27 735h1v2h-1zM62 735h2v1h-2zM105 735h2v1h-2zM123 735h2v1h-2zM136 735h1v1h-1zM150 735h1v1h-1zM182 735h4v1h-4zM188 735h2v1h-2zM197 735h1v3h-1zM313 735h1v1h-1zM318 735h2v1h-2zM601 735h2v1h-2zM604 735h1v1h-1zM854 735h2v1h-2zM871 735h1v1h-1zM945 735h2v1h-2zM948 735h1v1h-1zM998 735h2v1h-2zM209 756h2v1h-2zM212 756h2v1h-2zM416 756h1v1h-1zM468 756h1v1h-1zM514 756h1v1h-1zM675 756h2v1h-2zM705 756h1v1h-1zM20 716h1v3h-1zM1074 716h1v2h-1zM1233 716h1v1h-1zM1246 716h4v1h-4zM21 719h1v2h-1zM1073 718h1v2h-1zM419 759h1v1h-1zM465 759h1v1h-1zM532 759h1v1h-1zM550 758h1v2h-1zM682 759h12v1h-12zM701 759h1v1h-1zM26 732h1v3h-1zM64 734h1v1h-1zM103 734h2v1h-2zM125 734h3v1h-3zM134 734h2v1h-2zM151 734h1v1h-1zM179 734h3v1h-3zM190 734h1v1h-1zM196 732h1v3h-1zM314 734h1v1h-1zM316 734h2v1h-2zM603 734h1v1h-1zM856 734h1v1h-1zM870 734h1v1h-1zM947 734h1v1h-1zM1000 734h1v1h-1zM433 768h2v1h-2zM444 768h2v1h-2zM1235 718h5v1h-5zM205 754h2v1h-2zM216 754h1v1h-1zM552 753h1v2h-1zM658 754h1v1h-1zM661 754h2v1h-2zM672 754h1v1h-1zM707 754h1v1h-1zM33 743h1v2h-1zM38 743h2v1h-2zM238 743h1v1h-1zM252 743h1v1h-1zM269 743h1v1h-1zM344 743h1v1h-1zM354 743h3v1h-3zM377 743h1v1h-1zM388 743h2v1h-2zM491 743h1v1h-1zM560 743h2v1h-2zM567 743h2v1h-2zM575 743h2v1h-2zM645 743h1v1h-1zM741 743h1v1h-1zM768 743h1v1h-1zM784 743h1v1h-1zM794 743h3v1h-3zM812 742h1v2h-1zM826 743h1v1h-1zM914 743h2v1h-2zM958 743h4v1h-4zM964 743h2v1h-2zM973 742h1v2h-1zM986 742h1v2h-1zM43 739h5v1h-5zM113 739h2v1h-2zM116 739h2v1h-2zM241 739h1v2h-1zM246 739h2v1h-2zM274 739h1v1h-1zM280 739h5v1h-5zM296 739h1v1h-1zM304 739h2v1h-2zM308 739h1v1h-1zM326 739h4v1h-4zM584 739h2v1h-2zM608 739h1v1h-1zM617 739h2v1h-2zM624 739h6v1h-6zM746 739h1v1h-1zM752 739h12v1h-12zM831 739h1v1h-1zM841 739h2v1h-2zM845 739h3v1h-3zM896 739h1v1h-1zM921 739h2v1h-2zM952 739h1v1h-1zM971 739h1v1h-1zM991 739h2v1h-2zM23 724h1v3h-1zM80 726h1v1h-1zM85 726h1v1h-1zM1017 726h2v1h-2zM1021 726h2v1h-2zM1059 726h1v1h-1zM1069 726h1v2h-1zM67 732h2v1h-2zM96 732h5v1h-5zM130 732h2v1h-2zM154 732h1v1h-1zM176 732h1v1h-1zM192 732h2v1h-2zM859 732h9v1h-9zM1003 732h2v1h-2zM1049 732h2v1h-2zM1052 732h1v1h-1zM32 742h1v1h-1zM40 742h1v1h-1zM239 742h1v1h-1zM251 742h1v1h-1zM270 742h2v1h-2zM290 742h2v1h-2zM342 742h2v1h-2zM378 742h1v1h-1zM384 742h4v1h-4zM562 742h1v1h-1zM565 742h2v1h-2zM577 742h2v1h-2zM611 742h2v1h-2zM644 742h1v1h-1zM742 742h2v1h-2zM766 742h2v1h-2zM785 742h1v1h-1zM792 742h2v1h-2zM797 742h3v1h-3zM827 742h1v1h-1zM912 742h2v1h-2zM916 742h2v1h-2zM955 742h3v1h-3zM966 742h2v1h-2zM1090 711h2v1h-2zM1187 711h2v1h-2zM1206 711h4v1h-4zM1228 711h1v1h-1zM1267 711h5v1h-5zM202 749h1v3h-1zM224 750h2v1h-2zM399 750h1v1h-1zM410 750h2v1h-2zM473 749h1v2h-1zM509 749h1v2h-1zM554 749h1v2h-1zM652 750h2v1h-2zM711 749h1v2h-1zM818 750h1v2h-1zM821 749h1v2h-1zM977 749h1v2h-1zM981 750h1v1h-1zM37 744h1v1h-1zM253 744h1v1h-1zM268 744h1v1h-1zM345 744h2v1h-2zM350 744h4v1h-4zM357 744h2v1h-2zM376 744h1v1h-1zM390 744h2v1h-2zM489 744h2v1h-2zM492 744h2v1h-2zM559 744h1v1h-1zM569 744h2v1h-2zM573 744h2v1h-2zM646 744h1v1h-1zM740 744h1v1h-1zM769 744h1v1h-1zM783 744h1v1h-1zM813 744h1v1h-1zM962 744h2v1h-2zM985 744h1v1h-1zM30 740h1v1h-1zM42 740h1v1h-1zM115 740h1v1h-1zM248 740h1v1h-1zM273 740h1v1h-1zM285 740h3v1h-3zM294 740h2v1h-2zM306 740h2v1h-2zM330 740h10v1h-10zM581 740h3v1h-3zM609 740h1v1h-1zM615 740h2v1h-2zM630 740h4v1h-4zM745 740h1v1h-1zM764 740h1v1h-1zM787 740h2v1h-2zM802 740h6v1h-6zM830 740h1v1h-1zM843 740h2v1h-2zM897 740h2v1h-2zM904 740h5v1h-5zM920 740h1v1h-1zM953 740h1v1h-1zM969 740h2v1h-2zM989 740h2v1h-2zM226 749h4v1h-4zM259 749h2v1h-2zM398 749h1v1h-1zM499 749h3v1h-3zM651 749h1v1h-1zM728 749h5v1h-5zM817 749h1v1h-1zM982 748h1v2h-1zM201 746h1v3h-1zM234 747h2v1h-2zM257 747h1v1h-1zM263 747h2v1h-2zM363 747h5v1h-5zM372 747h1v1h-1zM395 747h1v1h-1zM475 747h5v1h-5zM484 747h2v1h-2zM496 747h2v1h-2zM506 747h2v1h-2zM555 747h1v2h-1zM649 747h1v1h-1zM713 747h1v1h-1zM720 747h2v1h-2zM735 747h2v1h-2zM774 747h4v1h-4zM780 747h1v1h-1zM815 746h1v2h-1zM823 747h1v1h-1zM976 747h1v2h-1zM983 747h1v1h-1zM25 730h1v2h-1zM69 731h3v1h-3zM91 731h5v1h-5zM155 731h11v1h-11zM174 731h2v1h-2zM194 731h2v1h-2zM1005 731h3v1h-3zM1047 731h2v1h-2zM1053 731h1v1h-1zM1067 731h1v1h-1zM60 736h2v1h-2zM107 736h2v1h-2zM121 736h2v1h-2zM137 736h2v1h-2zM148 736h2v1h-2zM186 736h2v1h-2zM312 736h1v1h-1zM320 736h1v1h-1zM599 736h2v1h-2zM605 736h1v1h-1zM835 736h2v1h-2zM852 736h2v1h-2zM872 736h2v1h-2zM890 736h2v1h-2zM943 736h2v1h-2zM949 736h1v1h-1zM996 736h2v1h-2zM3 715h13v1h-13zM19 715h1v1h-1zM1075 715h3v1h-3zM1232 715h1v1h-1zM1250 715h11v1h-11zM35 746h1v1h-1zM236 746h1v1h-1zM256 746h1v1h-1zM265 746h2v1h-2zM361 746h2v1h-2zM373 746h1v1h-1zM393 746h2v1h-2zM486 746h2v1h-2zM495 746h1v1h-1zM556 746h2v1h-2zM648 746h1v1h-1zM714 746h1v1h-1zM717 746h3v1h-3zM737 746h2v1h-2zM771 746h3v1h-3zM781 746h1v1h-1zM824 746h1v1h-1zM975 746h1v1h-1zM230 748h4v1h-4zM258 748h1v1h-1zM261 748h2v1h-2zM368 748h4v1h-4zM396 748h2v1h-2zM474 748h1v1h-1zM480 748h4v1h-4zM498 748h1v1h-1zM502 748h4v1h-4zM508 748h1v1h-1zM650 748h1v1h-1zM712 748h1v1h-1zM722 748h6v1h-6zM733 748h2v1h-2zM778 748h2v1h-2zM816 748h1v1h-1zM822 748h1v1h-1zM22 721h1v3h-1zM1072 720h1v2h-1zM420 760h2v1h-2zM464 760h1v1h-1zM533 760h1v1h-1zM549 760h1v2h-1zM694 760h4v1h-4zM700 760h1v1h-1zM422 761h2v1h-2zM463 761h1v2h-1zM534 761h1v1h-1zM698 761h2v1h-2zM424 762h1v1h-1zM535 762h1v1h-1zM548 762h1v2h-1zM24 727h1v3h-1zM76 728h2v1h-2zM88 728h1v1h-1zM1013 728h2v1h-2zM1025 728h2v1h-2zM1057 728h1v1h-1zM1062 728h2v1h-2zM1068 728h1v2h-1zM1086 712h4v1h-4zM1189 712h3v1h-3zM1202 712h4v1h-4zM1229 712h1v1h-1zM1265 712h2v1h-2zM16 714h4v1h-4zM1078 714h4v1h-4zM1194 714h4v1h-4zM1231 714h1v1h-1zM1261 714h2v1h-2zM432 767h1v1h-1zM446 767h2v1h-2zM65 733h2v1h-2zM101 733h2v1h-2zM128 733h2v1h-2zM132 733h2v1h-2zM152 733h2v1h-2zM177 733h2v1h-2zM191 733h1v1h-1zM315 733h1v1h-1zM857 733h2v1h-2zM868 733h2v1h-2zM1001 733h2v1h-2zM1051 733h1v1h-1zM28 737h1v1h-1zM56 737h4v1h-4zM109 737h2v1h-2zM120 737h1v1h-1zM139 737h9v1h-9zM243 737h1v1h-1zM299 737h2v1h-2zM310 737h2v1h-2zM321 737h2v1h-2zM597 737h2v1h-2zM606 737h1v1h-1zM834 737h1v1h-1zM837 737h2v1h-2zM850 737h2v1h-2zM874 737h1v1h-1zM886 737h4v1h-4zM892 737h2v1h-2zM941 737h2v1h-2zM950 737h1v1h-1zM995 737h1v1h-1zM1098 705h1v1h-1zM1179 705h1v1h-1zM435 769h9v1h-9zM1082 713h4v1h-4zM1192 713h2v1h-2zM1198 713h4v1h-4zM1230 713h1v1h-1zM1263 713h2v1h-2zM203 753h2v1h-2zM217 753h2v1h-2zM403 753h2v1h-2zM414 753h1v1h-1zM470 753h1v1h-1zM512 753h1v1h-1zM656 753h2v1h-2zM663 753h2v1h-2zM670 753h2v1h-2zM708 753h1v1h-1zM979 753h1v1h-1zM211 757h1v1h-1zM417 757h1v1h-1zM467 757h1v1h-1zM515 757h13v1h-13zM677 757h3v1h-3zM704 757h1v1h-1zM1092 710h1v1h-1zM1186 710h1v1h-1zM1210 710h4v1h-4zM1226 710h2v1h-2zM1272 710h4v1h-4zM1094 708h2v1h-2zM1183 708h1v1h-1zM1218 708h4v1h-4zM1111 698h1v2h-1zM1123 699h10v1h-10zM1153 699h2v1h-2zM1114 695h1v1h-1zM1116 695h2v1h-2zM1144 695h4v1h-4zM1113 696h1v1h-1zM1118 696h2v1h-2zM1138 696h6v1h-6zM1148 696h2v1h-2zM1104 703h4v1h-4zM1162 703h4v1h-4zM1175 703h2v1h-2zM430 766h2v1h-2zM448 766h1v1h-1zM458 766h2v1h-2zM539 766h5v1h-5zM1097 706h1v1h-1zM1180 706h2v1h-2zM1234 717h1v1h-1zM1240 717h6v1h-6zM203 752h1v1h-1zM219 752h2v1h-2zM402 752h1v1h-1zM405 752h3v1h-3zM413 752h1v1h-1zM471 752h1v1h-1zM511 752h1v1h-1zM553 751h1v2h-1zM655 752h1v1h-1zM665 752h2v1h-2zM668 752h2v1h-2zM709 752h1v1h-1zM819 752h1v1h-1zM978 751h1v2h-1zM980 751h1v2h-1zM72 730h2v1h-2zM90 730h1v1h-1zM166 730h4v1h-4zM172 730h2v1h-2zM195 730h1v1h-1zM1008 730h2v1h-2zM1045 730h2v1h-2zM1054 730h2v1h-2zM1065 730h3v1h-3zM428 765h2v1h-2zM449 765h2v1h-2zM454 765h4v1h-4zM460 765h1v1h-1zM538 765h1v1h-1zM544 765h4v1h-4zM418 758h1v1h-1zM466 758h1v1h-1zM528 758h4v1h-4zM680 758h2v1h-2zM702 758h2v1h-2zM425 763h2v1h-2zM462 763h1v1h-1zM536 763h1v1h-1zM1093 709h1v1h-1zM1184 709h2v1h-2zM1214 709h4v1h-4zM1222 709h4v1h-4zM74 729h2v1h-2zM89 729h1v1h-1zM170 729h2v1h-2zM1010 729h3v1h-3zM1027 729h18v1h-18zM1056 729h1v1h-1zM1064 729h1v1h-1zM1121 698h2v1h-2zM1133 698h3v1h-3zM1152 698h1v1h-1zM78 727h2v1h-2zM86 727h2v1h-2zM1015 727h2v1h-2zM1023 727h2v1h-2zM1058 727h1v1h-1zM1060 727h2v1h-2zM1108 702h1v1h-1zM1160 702h2v1h-2zM1166 702h4v1h-4zM1173 702h2v1h-2zM221 751h3v1h-3zM400 751h2v1h-2zM408 751h2v1h-2zM412 751h1v1h-1zM472 751h1v1h-1zM510 751h1v1h-1zM654 751h1v1h-1zM667 751h1v1h-1zM710 751h1v1h-1zM820 751h1v1h-1zM1099 704h5v1h-5zM1177 704h2v1h-2zM1071 722h1v2h-1zM83 724h1v1h-1zM1070 724h1v2h-1zM1112 697h1v1h-1zM1120 697h1v1h-1zM1136 697h2v1h-2zM1150 697h2v1h-2zM1109 701h1v1h-1zM1157 701h3v1h-3zM1170 701h3v1h-3zM1110 700h1v1h-1zM1155 700h2v1h-2zM81 725h2v1h-2zM84 725h1v1h-1zM1019 725h2v1h-2zM427 764h1v1h-1zM451 764h3v1h-3zM461 764h1v1h-1zM537 764h1v1h-1zM547 764h1v1h-1zM1096 707h1v1h-1zM1182 707h1v1h-1zM1115 694h1v1h-1z" fill="#1e90ff"/>
<rect x="6" y="40" width="221" height="71" fill="#fff"/>
<rect x="3" y="104" width="3" height="1" fill="#c0c0c0"/>
<path d="M6 45H58V69H115V109H6Z" fill="url(#bl)"/>
<path d="M173 45H225V109H117V69H173Z" fill="url(#bl)"/>
<path d="M6.5 109V45.5H57.5" fill="none" stroke="#1414b4" stroke-width="1"/>
<path d="M117.5 109V69.5H173.5V45.5H224.5" fill="none" stroke="#1414b4" stroke-width="1"/>
<path d="M58 69.5H114.5" fill="none" stroke="#1414b4" stroke-width="1"/>
<rect x="10" y="68" width="44" height="1" fill="#0c0ca8"/><rect x="10" y="69" width="44" height="1" fill="#7a7af0"/>
<rect x="177" y="68" width="44" height="1" fill="#0c0ca8"/><rect x="177" y="69" width="44" height="1" fill="#7a7af0"/>
<rect x="60.5" y="45.5" width="110" height="21" fill="#fff" stroke="#a6a6a6" stroke-width="1"/>
<rect x="61" y="46" width="20" height="20" fill="url(#gb)"/><rect x="61" y="46" width="20" height="8" fill="#ececec"/>
<rect x="150" y="46" width="20" height="20" fill="url(#gb)"/><rect x="150" y="46" width="20" height="8" fill="#ececec"/>
<rect x="81" y="46" width="1" height="20" fill="#a6a6a6"/><rect x="149" y="46" width="1" height="20" fill="#a6a6a6"/>
<path d="M67.6 54L73.4 54L70.5 57.2Z" fill="#5668b8" shape-rendering="auto"/>
<path d="M156.8 56.8L162.6 56.8L159.7 53.6Z" fill="#5668b8" shape-rendering="auto"/>
<text transform="translate(122.6 60) scale(0.95 1)" style="font-size:12.4px;fill:#000" shape-rendering="auto">1.00</text>
<text transform="translate(18.4 60.8) scale(0.865 1)" style="font-size:12px;fill:#fff" shape-rendering="auto">SELL</text>
<text transform="translate(186.2 60.8) scale(0.95 1)" style="font-size:12px;fill:#fff" shape-rendering="auto">BUY</text>
<text transform="translate(25.8 100.2)" style="font-size:12.4px;font-weight:bold;fill:#fff" shape-rendering="auto">6.94</text>
<text transform="translate(135.8 100.2)" style="font-size:12.4px;font-weight:bold;fill:#fff" shape-rendering="auto">6.94</text>
<text transform="translate(53.4 100.3) scale(0.925 1)" style="font-size:34.4px;fill:#fff" stroke="url(#bl2)" stroke-width="0.45" shape-rendering="auto">68</text>
<text transform="translate(164.4 100.3) scale(0.925 1)" style="font-size:34.4px;fill:#fff" stroke="url(#bl2)" stroke-width="0.45" shape-rendering="auto">93</text>
<text transform="translate(92.9 84) scale(1.08 1)" style="font-size:11.7px;font-weight:bold;fill:#fff" shape-rendering="auto">0</text>
<text transform="translate(204.4 84)" style="font-size:11.7px;font-weight:bold;fill:#fff" shape-rendering="auto">3</text>
</svg></body></html>
